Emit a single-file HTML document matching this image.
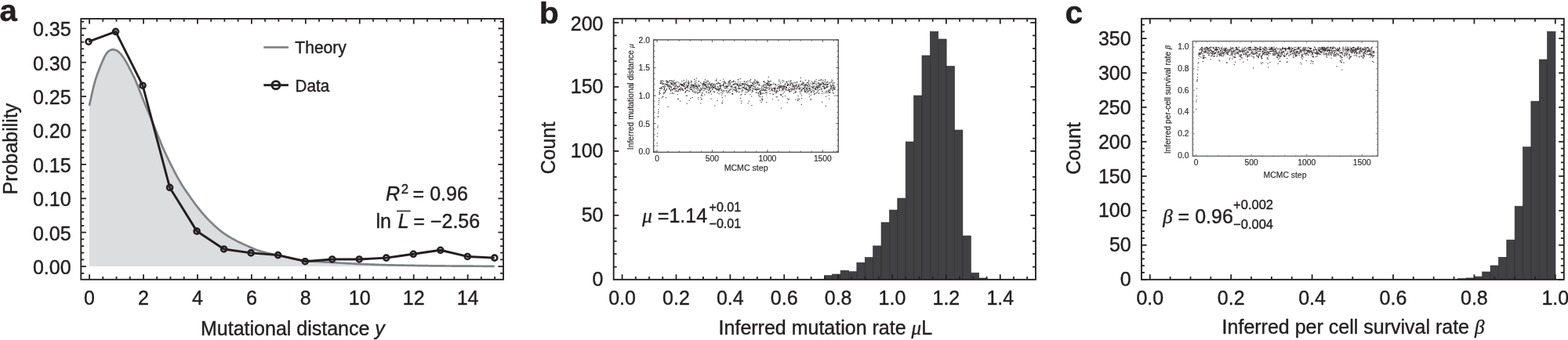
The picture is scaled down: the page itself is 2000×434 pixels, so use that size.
<!DOCTYPE html>
<html lang="en">
<head>
<meta charset="utf-8">
<title>Figure</title>
<style>
html,body{margin:0;padding:0;background:#fff;}
body{width:2000px;height:434px;overflow:hidden;}
svg{display:block;}
text{white-space:pre;}
</style>
</head>
<body>
<svg width="2000" height="434" viewBox="0 0 2000 434">
<rect width="2000" height="434" fill="#fff"/>
<path d="M113.90 134.90 L115.90 125.67 L117.89 116.88 L119.89 108.42 L121.88 101.38 L123.88 95.41 L125.87 89.98 L127.87 84.98 L129.86 80.31 L131.86 75.65 L133.85 71.36 L135.85 68.25 L137.84 65.79 L139.84 64.39 L141.84 63.56 L143.83 63.20 L145.83 63.43 L147.82 64.00 L149.82 64.96 L151.81 66.65 L153.81 68.65 L155.80 71.15 L157.80 74.04 L159.79 77.15 L161.79 80.67 L163.78 84.48 L165.78 88.31 L167.77 92.09 L169.77 96.00 L171.77 100.20 L173.76 104.86 L175.76 109.80 L177.75 114.79 L179.75 119.93 L181.74 125.09 L183.74 130.04 L185.73 134.78 L187.73 139.47 L189.72 144.25 L191.72 149.11 L193.71 154.00 L195.71 158.90 L197.71 163.79 L199.70 168.69 L201.70 173.64 L203.69 178.59 L205.69 183.46 L207.68 188.18 L209.68 192.68 L211.67 197.05 L213.67 201.29 L215.66 205.42 L217.66 209.45 L219.65 213.39 L221.65 217.27 L223.65 221.09 L225.64 224.82 L227.64 228.44 L229.63 231.93 L231.63 235.27 L233.62 238.43 L235.62 241.45 L237.61 244.37 L239.61 247.24 L241.60 250.10 L243.60 252.94 L245.59 255.76 L247.59 258.54 L249.58 261.25 L251.58 263.89 L253.58 266.44 L255.57 268.89 L257.57 271.26 L259.56 273.58 L261.56 275.83 L263.55 278.01 L265.55 280.13 L267.54 282.18 L269.54 284.15 L271.53 286.06 L273.53 287.94 L275.52 289.76 L277.52 291.53 L279.52 293.23 L281.51 294.85 L283.51 296.38 L285.50 297.82 L287.50 299.19 L289.49 300.49 L291.49 301.73 L293.48 302.92 L295.48 304.07 L297.47 305.19 L299.47 306.27 L301.46 307.32 L303.46 308.34 L305.46 309.32 L307.45 310.27 L309.45 311.20 L311.44 312.11 L313.44 313.00 L315.43 313.89 L317.43 314.79 L319.42 315.69 L321.42 316.58 L323.41 317.44 L325.41 318.27 L327.40 319.04 L329.40 319.74 L331.39 320.37 L333.39 320.95 L335.39 321.50 L337.38 322.01 L339.38 322.51 L341.37 322.98 L343.37 323.45 L345.36 323.91 L347.36 324.34 L349.35 324.76 L351.35 325.17 L353.34 325.58 L355.34 326.02 L357.33 326.47 L359.33 326.92 L361.33 327.39 L363.32 327.85 L365.32 328.30 L367.31 328.74 L369.31 329.16 L371.30 329.56 L373.30 329.95 L375.29 330.34 L377.29 330.73 L379.28 331.11 L381.28 331.47 L383.27 331.81 L385.27 332.12 L387.27 332.39 L389.26 332.62 L391.26 332.82 L393.25 333.00 L395.25 333.18 L397.24 333.35 L399.24 333.50 L401.23 333.65 L403.23 333.79 L405.22 333.92 L407.22 334.05 L409.21 334.17 L411.21 334.29 L413.21 334.41 L415.20 334.53 L417.20 334.65 L419.19 334.76 L421.19 334.88 L423.18 335.01 L425.18 335.13 L427.17 335.25 L429.17 335.37 L431.16 335.49 L433.16 335.61 L435.15 335.73 L437.15 335.85 L439.14 335.96 L441.14 336.07 L443.14 336.18 L445.13 336.29 L447.13 336.40 L449.12 336.50 L451.12 336.60 L453.11 336.70 L455.11 336.79 L457.10 336.89 L459.10 336.98 L461.09 337.06 L463.09 337.15 L465.08 337.24 L467.08 337.32 L469.08 337.41 L471.07 337.49 L473.07 337.57 L475.06 337.65 L477.06 337.72 L479.05 337.79 L481.05 337.87 L483.04 337.93 L485.04 338.00 L487.03 338.06 L489.03 338.12 L491.02 338.18 L493.02 338.23 L495.02 338.28 L497.01 338.33 L499.01 338.38 L501.00 338.43 L503.00 338.47 L504.99 338.51 L506.99 338.55 L508.98 338.59 L510.98 338.63 L512.97 338.67 L514.97 338.71 L516.96 338.75 L518.96 338.78 L520.95 338.82 L522.95 338.85 L524.95 338.89 L526.94 338.92 L528.94 338.96 L530.93 338.99 L532.93 339.03 L534.92 339.06 L536.92 339.10 L538.91 339.13 L540.91 339.16 L542.90 339.19 L544.90 339.22 L546.89 339.25 L548.89 339.28 L550.89 339.30 L552.88 339.33 L554.88 339.35 L556.87 339.37 L558.87 339.39 L560.86 339.41 L562.86 339.42 L564.85 339.44 L566.85 339.46 L568.84 339.48 L570.84 339.49 L572.83 339.51 L574.83 339.52 L576.83 339.54 L578.82 339.56 L580.82 339.57 L582.81 339.59 L584.81 339.60 L586.80 339.62 L588.80 339.63 L590.79 339.65 L592.79 339.66 L594.78 339.67 L596.78 339.68 L598.77 339.70 L600.77 339.71 L602.76 339.72 L604.76 339.73 L606.76 339.74 L608.75 339.75 L610.75 339.76 L612.74 339.76 L614.74 339.77 L616.73 339.78 L618.73 339.78 L620.72 339.79 L622.72 339.79 L624.71 339.80 L626.71 339.80 L628.70 339.80 L630.70 339.80 L630.70 340.10 L113.90 340.10 Z" fill="#dcddde" stroke="none"/>
<path d="M113.90 134.90 L115.90 125.67 L117.89 116.88 L119.89 108.42 L121.88 101.38 L123.88 95.41 L125.87 89.98 L127.87 84.98 L129.86 80.31 L131.86 75.65 L133.85 71.36 L135.85 68.25 L137.84 65.79 L139.84 64.39 L141.84 63.56 L143.83 63.20 L145.83 63.43 L147.82 64.00 L149.82 64.96 L151.81 66.65 L153.81 68.65 L155.80 71.15 L157.80 74.04 L159.79 77.15 L161.79 80.67 L163.78 84.48 L165.78 88.31 L167.77 92.09 L169.77 96.00 L171.77 100.20 L173.76 104.86 L175.76 109.80 L177.75 114.79 L179.75 119.93 L181.74 125.09 L183.74 130.04 L185.73 134.78 L187.73 139.47 L189.72 144.25 L191.72 149.11 L193.71 154.00 L195.71 158.90 L197.71 163.79 L199.70 168.69 L201.70 173.64 L203.69 178.59 L205.69 183.46 L207.68 188.18 L209.68 192.68 L211.67 197.05 L213.67 201.29 L215.66 205.42 L217.66 209.45 L219.65 213.39 L221.65 217.27 L223.65 221.09 L225.64 224.82 L227.64 228.44 L229.63 231.93 L231.63 235.27 L233.62 238.43 L235.62 241.45 L237.61 244.37 L239.61 247.24 L241.60 250.10 L243.60 252.94 L245.59 255.76 L247.59 258.54 L249.58 261.25 L251.58 263.89 L253.58 266.44 L255.57 268.89 L257.57 271.26 L259.56 273.58 L261.56 275.83 L263.55 278.01 L265.55 280.13 L267.54 282.18 L269.54 284.15 L271.53 286.06 L273.53 287.94 L275.52 289.76 L277.52 291.53 L279.52 293.23 L281.51 294.85 L283.51 296.38 L285.50 297.82 L287.50 299.19 L289.49 300.49 L291.49 301.73 L293.48 302.92 L295.48 304.07 L297.47 305.19 L299.47 306.27 L301.46 307.32 L303.46 308.34 L305.46 309.32 L307.45 310.27 L309.45 311.20 L311.44 312.11 L313.44 313.00 L315.43 313.89 L317.43 314.79 L319.42 315.69 L321.42 316.58 L323.41 317.44 L325.41 318.27 L327.40 319.04 L329.40 319.74 L331.39 320.37 L333.39 320.95 L335.39 321.50 L337.38 322.01 L339.38 322.51 L341.37 322.98 L343.37 323.45 L345.36 323.91 L347.36 324.34 L349.35 324.76 L351.35 325.17 L353.34 325.58 L355.34 326.02 L357.33 326.47 L359.33 326.92 L361.33 327.39 L363.32 327.85 L365.32 328.30 L367.31 328.74 L369.31 329.16 L371.30 329.56 L373.30 329.95 L375.29 330.34 L377.29 330.73 L379.28 331.11 L381.28 331.47 L383.27 331.81 L385.27 332.12 L387.27 332.39 L389.26 332.62 L391.26 332.82 L393.25 333.00 L395.25 333.18 L397.24 333.35 L399.24 333.50 L401.23 333.65 L403.23 333.79 L405.22 333.92 L407.22 334.05 L409.21 334.17 L411.21 334.29 L413.21 334.41 L415.20 334.53 L417.20 334.65 L419.19 334.76 L421.19 334.88 L423.18 335.01 L425.18 335.13 L427.17 335.25 L429.17 335.37 L431.16 335.49 L433.16 335.61 L435.15 335.73 L437.15 335.85 L439.14 335.96 L441.14 336.07 L443.14 336.18 L445.13 336.29 L447.13 336.40 L449.12 336.50 L451.12 336.60 L453.11 336.70 L455.11 336.79 L457.10 336.89 L459.10 336.98 L461.09 337.06 L463.09 337.15 L465.08 337.24 L467.08 337.32 L469.08 337.41 L471.07 337.49 L473.07 337.57 L475.06 337.65 L477.06 337.72 L479.05 337.79 L481.05 337.87 L483.04 337.93 L485.04 338.00 L487.03 338.06 L489.03 338.12 L491.02 338.18 L493.02 338.23 L495.02 338.28 L497.01 338.33 L499.01 338.38 L501.00 338.43 L503.00 338.47 L504.99 338.51 L506.99 338.55 L508.98 338.59 L510.98 338.63 L512.97 338.67 L514.97 338.71 L516.96 338.75 L518.96 338.78 L520.95 338.82 L522.95 338.85 L524.95 338.89 L526.94 338.92 L528.94 338.96 L530.93 338.99 L532.93 339.03 L534.92 339.06 L536.92 339.10 L538.91 339.13 L540.91 339.16 L542.90 339.19 L544.90 339.22 L546.89 339.25 L548.89 339.28 L550.89 339.30 L552.88 339.33 L554.88 339.35 L556.87 339.37 L558.87 339.39 L560.86 339.41 L562.86 339.42 L564.85 339.44 L566.85 339.46 L568.84 339.48 L570.84 339.49 L572.83 339.51 L574.83 339.52 L576.83 339.54 L578.82 339.56 L580.82 339.57 L582.81 339.59 L584.81 339.60 L586.80 339.62 L588.80 339.63 L590.79 339.65 L592.79 339.66 L594.78 339.67 L596.78 339.68 L598.77 339.70 L600.77 339.71 L602.76 339.72 L604.76 339.73 L606.76 339.74 L608.75 339.75 L610.75 339.76 L612.74 339.76 L614.74 339.77 L616.73 339.78 L618.73 339.78 L620.72 339.79 L622.72 339.79 L624.71 339.80 L626.71 339.80 L628.70 339.80 L630.70 339.80" fill="none" stroke="#808285" stroke-width="2.7" stroke-linejoin="round"/>
<polyline points="113.00,53.19 147.52,40.35 182.04,109.19 216.56,239.40 251.08,295.13 285.60,317.96 320.12,322.91 354.64,325.60 389.16,333.68 423.68,330.98 458.20,330.98 492.72,329.16 527.24,324.30 561.76,319.27 596.28,327.43 630.80,329.16" fill="none" stroke="#231f20" stroke-width="2.9" stroke-linejoin="round"/>
<circle cx="113.00" cy="53.19" r="3.5" fill="none" stroke="#231f20" stroke-width="2.6"/>
<circle cx="147.52" cy="40.35" r="3.5" fill="none" stroke="#231f20" stroke-width="2.6"/>
<circle cx="182.04" cy="109.19" r="3.5" fill="none" stroke="#231f20" stroke-width="2.6"/>
<circle cx="216.56" cy="239.40" r="3.5" fill="none" stroke="#231f20" stroke-width="2.6"/>
<circle cx="251.08" cy="295.13" r="3.5" fill="none" stroke="#231f20" stroke-width="2.6"/>
<circle cx="285.60" cy="317.96" r="3.5" fill="none" stroke="#231f20" stroke-width="2.6"/>
<circle cx="320.12" cy="322.91" r="3.5" fill="none" stroke="#231f20" stroke-width="2.6"/>
<circle cx="354.64" cy="325.60" r="3.5" fill="none" stroke="#231f20" stroke-width="2.6"/>
<circle cx="389.16" cy="333.68" r="3.5" fill="none" stroke="#231f20" stroke-width="2.6"/>
<circle cx="423.68" cy="330.98" r="3.5" fill="none" stroke="#231f20" stroke-width="2.6"/>
<circle cx="458.20" cy="330.98" r="3.5" fill="none" stroke="#231f20" stroke-width="2.6"/>
<circle cx="492.72" cy="329.16" r="3.5" fill="none" stroke="#231f20" stroke-width="2.6"/>
<circle cx="527.24" cy="324.30" r="3.5" fill="none" stroke="#231f20" stroke-width="2.6"/>
<circle cx="561.76" cy="319.27" r="3.5" fill="none" stroke="#231f20" stroke-width="2.6"/>
<circle cx="596.28" cy="327.43" r="3.5" fill="none" stroke="#231f20" stroke-width="2.6"/>
<circle cx="630.80" cy="329.16" r="3.5" fill="none" stroke="#231f20" stroke-width="2.6"/>
<rect x="103.30" y="23.90" width="538.70" height="332.90" fill="none" stroke="#231f20" stroke-width="1.85"/>
<path d="M114.05 356.80v-6.60M114.05 23.90v6.60M182.99 356.80v-6.60M182.99 23.90v6.60M251.93 356.80v-6.60M251.93 23.90v6.60M320.87 356.80v-6.60M320.87 23.90v6.60M389.81 356.80v-6.60M389.81 23.90v6.60M458.75 356.80v-6.60M458.75 23.90v6.60M527.69 356.80v-6.60M527.69 23.90v6.60M596.63 356.80v-6.60M596.63 23.90v6.60M114.05 356.80v-3.90M114.05 23.90v3.90M131.28 356.80v-3.90M131.28 23.90v3.90M148.52 356.80v-3.90M148.52 23.90v3.90M165.75 356.80v-3.90M165.75 23.90v3.90M182.99 356.80v-3.90M182.99 23.90v3.90M200.22 356.80v-3.90M200.22 23.90v3.90M217.46 356.80v-3.90M217.46 23.90v3.90M234.69 356.80v-3.90M234.69 23.90v3.90M251.93 356.80v-3.90M251.93 23.90v3.90M269.17 356.80v-3.90M269.17 23.90v3.90M286.40 356.80v-3.90M286.40 23.90v3.90M303.63 356.80v-3.90M303.63 23.90v3.90M320.87 356.80v-3.90M320.87 23.90v3.90M338.11 356.80v-3.90M338.11 23.90v3.90M355.34 356.80v-3.90M355.34 23.90v3.90M372.57 356.80v-3.90M372.57 23.90v3.90M389.81 356.80v-3.90M389.81 23.90v3.90M407.05 356.80v-3.90M407.05 23.90v3.90M424.28 356.80v-3.90M424.28 23.90v3.90M441.51 356.80v-3.90M441.51 23.90v3.90M458.75 356.80v-3.90M458.75 23.90v3.90M475.99 356.80v-3.90M475.99 23.90v3.90M493.22 356.80v-3.90M493.22 23.90v3.90M510.45 356.80v-3.90M510.45 23.90v3.90M527.69 356.80v-3.90M527.69 23.90v3.90M544.92 356.80v-3.90M544.92 23.90v3.90M562.16 356.80v-3.90M562.16 23.90v3.90M579.39 356.80v-3.90M579.39 23.90v3.90M596.63 356.80v-3.90M596.63 23.90v3.90M613.87 356.80v-3.90M613.87 23.90v3.90M631.10 356.80v-3.90M631.10 23.90v3.90M103.30 340.10h6.60M642.00 340.10h-6.60M103.30 296.70h6.60M642.00 296.70h-6.60M103.30 253.29h6.60M642.00 253.29h-6.60M103.30 209.88h6.60M642.00 209.88h-6.60M103.30 166.48h6.60M642.00 166.48h-6.60M103.30 123.08h6.60M642.00 123.08h-6.60M103.30 79.67h6.60M642.00 79.67h-6.60M103.30 36.26h6.60M642.00 36.26h-6.60M103.30 348.78h3.90M642.00 348.78h-3.90M103.30 340.10h3.90M642.00 340.10h-3.90M103.30 331.42h3.90M642.00 331.42h-3.90M103.30 322.74h3.90M642.00 322.74h-3.90M103.30 314.06h3.90M642.00 314.06h-3.90M103.30 305.38h3.90M642.00 305.38h-3.90M103.30 296.70h3.90M642.00 296.70h-3.90M103.30 288.01h3.90M642.00 288.01h-3.90M103.30 279.33h3.90M642.00 279.33h-3.90M103.30 270.65h3.90M642.00 270.65h-3.90M103.30 261.97h3.90M642.00 261.97h-3.90M103.30 253.29h3.90M642.00 253.29h-3.90M103.30 244.61h3.90M642.00 244.61h-3.90M103.30 235.93h3.90M642.00 235.93h-3.90M103.30 227.25h3.90M642.00 227.25h-3.90M103.30 218.57h3.90M642.00 218.57h-3.90M103.30 209.89h3.90M642.00 209.89h-3.90M103.30 201.20h3.90M642.00 201.20h-3.90M103.30 192.52h3.90M642.00 192.52h-3.90M103.30 183.84h3.90M642.00 183.84h-3.90M103.30 175.16h3.90M642.00 175.16h-3.90M103.30 166.48h3.90M642.00 166.48h-3.90M103.30 157.80h3.90M642.00 157.80h-3.90M103.30 149.12h3.90M642.00 149.12h-3.90M103.30 140.44h3.90M642.00 140.44h-3.90M103.30 131.76h3.90M642.00 131.76h-3.90M103.30 123.08h3.90M642.00 123.08h-3.90M103.30 114.39h3.90M642.00 114.39h-3.90M103.30 105.71h3.90M642.00 105.71h-3.90M103.30 97.03h3.90M642.00 97.03h-3.90M103.30 88.35h3.90M642.00 88.35h-3.90M103.30 79.67h3.90M642.00 79.67h-3.90M103.30 70.99h3.90M642.00 70.99h-3.90M103.30 62.31h3.90M642.00 62.31h-3.90M103.30 53.63h3.90M642.00 53.63h-3.90M103.30 44.95h3.90M642.00 44.95h-3.90M103.30 36.26h3.90M642.00 36.26h-3.90M103.30 27.58h3.90M642.00 27.58h-3.90" stroke="#231f20" stroke-width="1.75" fill="none"/>
<g font-family='"Liberation Sans", Arial, Helvetica, sans-serif'>
<text x="0.00" y="0.00" font-size="39" text-anchor="start" fill="#231f20" stroke="#231f20" stroke-width="0.4" font-weight="bold" transform="translate(-0.4,27.2) scale(1.03,1)">a</text>
<text x="90.60" y="350.00" font-size="25" text-anchor="end" fill="#231f20" stroke="#231f20" stroke-width="0.4" >0.00</text>
<text x="90.60" y="306.60" font-size="25" text-anchor="end" fill="#231f20" stroke="#231f20" stroke-width="0.4" >0.05</text>
<text x="90.60" y="263.19" font-size="25" text-anchor="end" fill="#231f20" stroke="#231f20" stroke-width="0.4" >0.10</text>
<text x="90.60" y="219.78" font-size="25" text-anchor="end" fill="#231f20" stroke="#231f20" stroke-width="0.4" >0.15</text>
<text x="90.60" y="176.38" font-size="25" text-anchor="end" fill="#231f20" stroke="#231f20" stroke-width="0.4" >0.20</text>
<text x="90.60" y="132.98" font-size="25" text-anchor="end" fill="#231f20" stroke="#231f20" stroke-width="0.4" >0.25</text>
<text x="90.60" y="89.57" font-size="25" text-anchor="end" fill="#231f20" stroke="#231f20" stroke-width="0.4" >0.30</text>
<text x="90.60" y="46.16" font-size="25" text-anchor="end" fill="#231f20" stroke="#231f20" stroke-width="0.4" >0.35</text>
<text x="114.05" y="388.60" font-size="25" text-anchor="middle" fill="#231f20" stroke="#231f20" stroke-width="0.4" >0</text>
<text x="182.99" y="388.60" font-size="25" text-anchor="middle" fill="#231f20" stroke="#231f20" stroke-width="0.4" >2</text>
<text x="251.93" y="388.60" font-size="25" text-anchor="middle" fill="#231f20" stroke="#231f20" stroke-width="0.4" >4</text>
<text x="320.87" y="388.60" font-size="25" text-anchor="middle" fill="#231f20" stroke="#231f20" stroke-width="0.4" >6</text>
<text x="389.81" y="388.60" font-size="25" text-anchor="middle" fill="#231f20" stroke="#231f20" stroke-width="0.4" >8</text>
<text x="458.75" y="388.60" font-size="25" text-anchor="middle" fill="#231f20" stroke="#231f20" stroke-width="0.4" >10</text>
<text x="527.69" y="388.60" font-size="25" text-anchor="middle" fill="#231f20" stroke="#231f20" stroke-width="0.4" >12</text>
<text x="596.63" y="388.60" font-size="25" text-anchor="middle" fill="#231f20" stroke="#231f20" stroke-width="0.4" >14</text>
<text x="0.00" y="0.00" font-size="25" text-anchor="middle" fill="#231f20" stroke="#231f20" stroke-width="0.4" transform="translate(21.5,190) rotate(-90)">Probability</text>
<text x="256.00" y="427.60" font-size="25" text-anchor="start" fill="#231f20" stroke="#231f20" stroke-width="0.4" >Mutational distance <tspan font-style="italic">y</tspan></text>
<line x1="336.30" y1="60.40" x2="367.90" y2="60.40" stroke="#808285" stroke-width="2.7" />
<text transform="translate(376.30,67.70) scale(0.95,1)" font-size="22.2" text-anchor="start" fill="#231f20" stroke="#231f20" stroke-width="0.4" >Theory</text>
<line x1="336.30" y1="108.65" x2="367.90" y2="108.65" stroke="#231f20" stroke-width="2.9" />
<circle cx="351.9" cy="108.65" r="5.0" fill="none" stroke="#231f20" stroke-width="2.9"/>
<text transform="translate(376.60,116.70) scale(0.93,1)" font-size="22.2" text-anchor="start" fill="#231f20" stroke="#231f20" stroke-width="0.4" >Data</text>
<text x="492.00" y="256.30" font-size="25" text-anchor="start" fill="#231f20" stroke="#231f20" stroke-width="0.4" ><tspan font-style="italic">R</tspan><tspan dx="1.8" dy="-8.8" font-size="16.7">2</tspan><tspan dx="-1.5" dy="8.8"> = 0.96</tspan></text>
<text x="479.40" y="291.00" font-size="25" text-anchor="start" fill="#231f20" stroke="#231f20" stroke-width="0.4" >ln <tspan dx="1.9" font-style="italic">L</tspan><tspan dx="-1.2"> = −2.56</tspan></text>
<line x1="506.10" y1="269.40" x2="523.70" y2="269.40" stroke="#231f20" stroke-width="1.5" />
</g>
<rect x="1051.30" y="351.70" width="10.39" height="5.15" fill="#414042" stroke="#2b2a2b" stroke-width="0.6"/>
<rect x="1061.69" y="350.05" width="10.39" height="6.80" fill="#414042" stroke="#2b2a2b" stroke-width="0.6"/>
<rect x="1072.08" y="345.25" width="10.39" height="11.60" fill="#414042" stroke="#2b2a2b" stroke-width="0.6"/>
<rect x="1082.47" y="346.75" width="10.39" height="10.10" fill="#414042" stroke="#2b2a2b" stroke-width="0.6"/>
<rect x="1092.86" y="335.20" width="10.39" height="21.65" fill="#414042" stroke="#2b2a2b" stroke-width="0.6"/>
<rect x="1103.25" y="328.60" width="10.39" height="28.25" fill="#414042" stroke="#2b2a2b" stroke-width="0.6"/>
<rect x="1113.64" y="313.90" width="10.39" height="42.95" fill="#414042" stroke="#2b2a2b" stroke-width="0.6"/>
<rect x="1124.03" y="283.95" width="10.39" height="72.90" fill="#414042" stroke="#2b2a2b" stroke-width="0.6"/>
<rect x="1134.42" y="268.05" width="10.39" height="88.80" fill="#414042" stroke="#2b2a2b" stroke-width="0.6"/>
<rect x="1144.81" y="253.05" width="10.39" height="103.80" fill="#414042" stroke="#2b2a2b" stroke-width="0.6"/>
<rect x="1155.20" y="181.00" width="10.39" height="175.85" fill="#414042" stroke="#2b2a2b" stroke-width="0.6"/>
<rect x="1165.59" y="122.00" width="10.39" height="234.85" fill="#414042" stroke="#2b2a2b" stroke-width="0.6"/>
<rect x="1175.98" y="70.95" width="10.39" height="285.90" fill="#414042" stroke="#2b2a2b" stroke-width="0.6"/>
<rect x="1186.37" y="40.20" width="10.39" height="316.65" fill="#414042" stroke="#2b2a2b" stroke-width="0.6"/>
<rect x="1196.76" y="49.95" width="10.39" height="306.90" fill="#414042" stroke="#2b2a2b" stroke-width="0.6"/>
<rect x="1207.15" y="84.45" width="10.39" height="272.40" fill="#414042" stroke="#2b2a2b" stroke-width="0.6"/>
<rect x="1217.54" y="166.00" width="10.39" height="190.85" fill="#414042" stroke="#2b2a2b" stroke-width="0.6"/>
<rect x="1227.93" y="301.00" width="10.39" height="55.85" fill="#414042" stroke="#2b2a2b" stroke-width="0.6"/>
<rect x="1238.32" y="348.25" width="10.39" height="8.60" fill="#414042" stroke="#2b2a2b" stroke-width="0.6"/>
<rect x="1248.71" y="355.00" width="10.39" height="1.85" fill="#414042" stroke="#2b2a2b" stroke-width="0.6"/>
<rect x="782.70" y="23.80" width="538.30" height="333.05" fill="none" stroke="#231f20" stroke-width="1.85"/>
<path d="M793.60 356.85v-6.60M793.60 23.80v6.60M862.48 356.85v-6.60M862.48 23.80v6.60M931.36 356.85v-6.60M931.36 23.80v6.60M1000.24 356.85v-6.60M1000.24 23.80v6.60M1069.12 356.85v-6.60M1069.12 23.80v6.60M1138.00 356.85v-6.60M1138.00 23.80v6.60M1206.88 356.85v-6.60M1206.88 23.80v6.60M1275.76 356.85v-6.60M1275.76 23.80v6.60M793.60 356.85v-3.90M793.60 23.80v3.90M810.82 356.85v-3.90M810.82 23.80v3.90M828.04 356.85v-3.90M828.04 23.80v3.90M845.26 356.85v-3.90M845.26 23.80v3.90M862.48 356.85v-3.90M862.48 23.80v3.90M879.70 356.85v-3.90M879.70 23.80v3.90M896.92 356.85v-3.90M896.92 23.80v3.90M914.14 356.85v-3.90M914.14 23.80v3.90M931.36 356.85v-3.90M931.36 23.80v3.90M948.58 356.85v-3.90M948.58 23.80v3.90M965.80 356.85v-3.90M965.80 23.80v3.90M983.02 356.85v-3.90M983.02 23.80v3.90M1000.24 356.85v-3.90M1000.24 23.80v3.90M1017.46 356.85v-3.90M1017.46 23.80v3.90M1034.68 356.85v-3.90M1034.68 23.80v3.90M1051.90 356.85v-3.90M1051.90 23.80v3.90M1069.12 356.85v-3.90M1069.12 23.80v3.90M1086.34 356.85v-3.90M1086.34 23.80v3.90M1103.56 356.85v-3.90M1103.56 23.80v3.90M1120.78 356.85v-3.90M1120.78 23.80v3.90M1138.00 356.85v-3.90M1138.00 23.80v3.90M1155.22 356.85v-3.90M1155.22 23.80v3.90M1172.44 356.85v-3.90M1172.44 23.80v3.90M1189.66 356.85v-3.90M1189.66 23.80v3.90M1206.88 356.85v-3.90M1206.88 23.80v3.90M1224.10 356.85v-3.90M1224.10 23.80v3.90M1241.32 356.85v-3.90M1241.32 23.80v3.90M1258.54 356.85v-3.90M1258.54 23.80v3.90M1275.76 356.85v-3.90M1275.76 23.80v3.90M1292.98 356.85v-3.90M1292.98 23.80v3.90M1310.20 356.85v-3.90M1310.20 23.80v3.90M782.70 274.95h6.60M1321.00 274.95h-6.60M782.70 192.95h6.60M1321.00 192.95h-6.60M782.70 110.95h6.60M1321.00 110.95h-6.60M782.70 28.95h6.60M1321.00 28.95h-6.60M782.70 340.55h3.90M1321.00 340.55h-3.90M782.70 324.15h3.90M1321.00 324.15h-3.90M782.70 307.75h3.90M1321.00 307.75h-3.90M782.70 291.35h3.90M1321.00 291.35h-3.90M782.70 274.95h3.90M1321.00 274.95h-3.90M782.70 258.55h3.90M1321.00 258.55h-3.90M782.70 242.15h3.90M1321.00 242.15h-3.90M782.70 225.75h3.90M1321.00 225.75h-3.90M782.70 209.35h3.90M1321.00 209.35h-3.90M782.70 192.95h3.90M1321.00 192.95h-3.90M782.70 176.55h3.90M1321.00 176.55h-3.90M782.70 160.15h3.90M1321.00 160.15h-3.90M782.70 143.75h3.90M1321.00 143.75h-3.90M782.70 127.35h3.90M1321.00 127.35h-3.90M782.70 110.95h3.90M1321.00 110.95h-3.90M782.70 94.55h3.90M1321.00 94.55h-3.90M782.70 78.15h3.90M1321.00 78.15h-3.90M782.70 61.75h3.90M1321.00 61.75h-3.90M782.70 45.35h3.90M1321.00 45.35h-3.90M782.70 28.95h3.90M1321.00 28.95h-3.90" stroke="#231f20" stroke-width="1.75" fill="none"/>
<g font-family='"Liberation Sans", Arial, Helvetica, sans-serif'>
<text x="0.00" y="0.00" font-size="39.5" text-anchor="start" fill="#231f20" stroke="#231f20" stroke-width="0.4" font-weight="bold" transform="translate(687.8,29.5) scale(1.04,1)">b</text>
<text x="769.50" y="365.45" font-size="25" text-anchor="end" fill="#231f20" stroke="#231f20" stroke-width="0.4" >0</text>
<text x="769.50" y="283.45" font-size="25" text-anchor="end" fill="#231f20" stroke="#231f20" stroke-width="0.4" >50</text>
<text x="769.50" y="201.45" font-size="25" text-anchor="end" fill="#231f20" stroke="#231f20" stroke-width="0.4" >100</text>
<text x="769.50" y="119.45" font-size="25" text-anchor="end" fill="#231f20" stroke="#231f20" stroke-width="0.4" >150</text>
<text x="769.50" y="38.65" font-size="25" text-anchor="end" fill="#231f20" stroke="#231f20" stroke-width="0.4" >200</text>
<text x="793.60" y="388.60" font-size="25" text-anchor="middle" fill="#231f20" stroke="#231f20" stroke-width="0.4" >0.0</text>
<text x="862.48" y="388.60" font-size="25" text-anchor="middle" fill="#231f20" stroke="#231f20" stroke-width="0.4" >0.2</text>
<text x="931.36" y="388.60" font-size="25" text-anchor="middle" fill="#231f20" stroke="#231f20" stroke-width="0.4" >0.4</text>
<text x="1000.24" y="388.60" font-size="25" text-anchor="middle" fill="#231f20" stroke="#231f20" stroke-width="0.4" >0.6</text>
<text x="1069.12" y="388.60" font-size="25" text-anchor="middle" fill="#231f20" stroke="#231f20" stroke-width="0.4" >0.8</text>
<text x="1138.00" y="388.60" font-size="25" text-anchor="middle" fill="#231f20" stroke="#231f20" stroke-width="0.4" >1.0</text>
<text x="1206.88" y="388.60" font-size="25" text-anchor="middle" fill="#231f20" stroke="#231f20" stroke-width="0.4" >1.2</text>
<text x="1275.76" y="388.60" font-size="25" text-anchor="middle" fill="#231f20" stroke="#231f20" stroke-width="0.4" >1.4</text>
<text x="0.00" y="0.00" font-size="25" text-anchor="middle" fill="#231f20" stroke="#231f20" stroke-width="0.4" transform="translate(708.1,189) rotate(-90)">Count</text>
<text x="916.60" y="427.00" font-size="25" text-anchor="start" fill="#231f20" stroke="#231f20" stroke-width="0.4" >Inferred mutation rate <tspan font-family='"Liberation Serif", "DejaVu Serif", serif' font-style="italic">μ</tspan>L</text>
<text x="819.30" y="284.20" font-size="25" text-anchor="start" fill="#231f20" stroke="#231f20" stroke-width="0.4" ><tspan font-family='"Liberation Serif", "DejaVu Serif", serif' font-style="italic">μ</tspan> =1.14</text>
<text x="904.60" y="269.60" font-size="16" text-anchor="start" fill="#231f20" stroke="#231f20" stroke-width="0.4" >+0.01</text>
<text x="904.60" y="290.90" font-size="16" text-anchor="start" fill="#231f20" stroke="#231f20" stroke-width="0.4" >−0.01</text>
</g>
<path d="M838.0 186.1h0.2M838.1 182.7h0.2M838.3 174.2h0.2M838.6 170.1h0.2M838.7 162.8h0.2M839.0 160.8h0.2M839.3 148.9h0.2M839.4 149.0h0.2M839.5 144.4h0.2M839.7 142.4h0.2M839.8 139.8h0.2M840.0 133.5h0.2M840.1 131.2h0.2M840.4 128.6h0.2M840.5 125.7h0.2M840.8 120.3h0.2M841.1 118.7h0.2M841.2 117.5h0.2M841.5 115.6h0.2M841.7 112.8h0.2M841.8 113.0h0.2M841.9 119.5h0.2M842.1 112.6h0.2M842.2 106.1h0.2M842.4 105.6h0.2M842.5 103.5h0.2M842.6 105.9h0.2M842.8 105.6h0.2M842.9 103.4h0.2M843.1 106.4h0.2M843.4 103.5h0.2M843.5 111.3h0.2M843.6 112.0h0.2M843.9 113.2h0.2M844.1 112.8h0.2M844.3 124.9h0.2M844.5 105.6h0.2M844.6 102.8h0.2M844.8 103.9h0.2M844.9 107.5h0.2M845.2 123.1h0.2M845.3 110.4h0.2M845.5 107.5h0.2M845.6 106.9h0.2M845.7 123.3h0.2M845.9 110.8h0.2M846.0 106.7h0.2M846.3 118.6h0.2M846.5 119.9h0.2M846.6 114.6h0.2M846.7 103.7h0.2M846.9 112.3h0.2M847.0 110.4h0.2M847.2 114.8h0.2M847.3 108.7h0.2M847.4 118.4h0.2M847.6 113.5h0.2M847.7 111.9h0.2M848.1 106.8h0.2M848.3 118.1h0.2M848.4 116.6h0.2M848.6 116.1h0.2M848.7 110.4h0.2M848.8 115.7h0.2M849.1 107.5h0.2M849.3 124.7h0.2M849.6 108.0h0.2M849.7 103.7h0.2M849.8 108.5h0.2M850.0 103.2h0.2M850.1 103.2h0.2M850.3 114.7h0.2M850.4 105.3h0.2M850.5 113.6h0.2M850.7 108.0h0.2M850.8 107.2h0.2M851.1 103.8h0.2M851.2 105.1h0.2M851.4 108.1h0.2M851.5 109.5h0.2M851.7 104.2h0.2M851.8 104.6h0.2M851.9 110.7h0.2M852.1 136.3h0.2M852.4 110.2h0.2M852.5 110.4h0.2M852.7 108.2h0.2M852.8 105.6h0.2M853.1 111.0h0.2M853.4 113.2h0.2M853.5 113.4h0.2M853.6 103.2h0.2M853.8 108.9h0.2M853.9 103.4h0.2M854.1 113.2h0.2M854.2 111.0h0.2M854.5 108.9h0.2M854.6 110.4h0.2M854.8 119.1h0.2M854.9 105.9h0.2M855.0 102.9h0.2M855.2 114.7h0.2M855.3 115.9h0.2M855.5 105.5h0.2M855.6 116.0h0.2M855.8 111.0h0.2M855.9 107.0h0.2M856.0 114.6h0.2M856.2 112.7h0.2M856.3 111.1h0.2M856.5 107.5h0.2M856.6 106.8h0.2M856.7 102.9h0.2M856.9 103.5h0.2M857.0 105.4h0.2M857.2 107.0h0.2M857.3 119.4h0.2M857.4 118.0h0.2M857.6 114.5h0.2M857.7 106.9h0.2M857.9 115.0h0.2M858.0 103.7h0.2M858.1 108.7h0.2M858.6 113.3h0.2M858.7 108.5h0.2M858.9 105.7h0.2M859.0 113.5h0.2M859.1 104.2h0.2M859.3 112.5h0.2M859.4 119.5h0.2M859.6 109.8h0.2M859.7 107.9h0.2M859.8 105.9h0.2M860.0 102.7h0.2M860.1 106.5h0.2M860.3 114.1h0.2M860.5 112.7h0.2M860.7 107.0h0.2M860.8 111.1h0.2M861.0 106.6h0.2M861.1 116.7h0.2M861.2 113.4h0.2M861.4 107.8h0.2M861.5 110.1h0.2M861.7 110.0h0.2M861.8 105.5h0.2M862.0 115.2h0.2M862.1 113.2h0.2M862.2 104.9h0.2M862.5 115.9h0.2M862.8 109.6h0.2M862.9 108.0h0.2M863.4 112.6h0.2M863.6 116.9h0.2M863.8 116.1h0.2M863.9 104.8h0.2M864.1 110.3h0.2M864.2 110.7h0.2M864.3 120.6h0.2M864.6 126.0h0.2M864.9 111.2h0.2M865.1 110.8h0.2M865.2 127.0h0.2M865.3 114.9h0.2M865.5 116.4h0.2M865.6 105.8h0.2M865.9 114.3h0.2M866.2 114.6h0.2M866.3 113.4h0.2M866.5 110.2h0.2M866.6 113.6h0.2M866.7 109.7h0.2M866.9 114.5h0.2M867.0 107.7h0.4M867.6 129.1h0.2M867.9 112.0h0.2M868.0 106.9h0.2M868.2 115.9h0.2M868.3 113.2h0.2M868.4 107.9h0.2M868.6 114.4h0.2M869.0 108.0h0.2M869.1 112.1h0.2M869.3 107.9h0.2M869.4 109.4h0.2M869.6 108.0h0.2M869.7 103.7h0.2M869.8 108.0h0.2M870.0 107.7h0.2M870.1 113.9h0.2M870.3 113.1h0.2M870.4 107.9h0.2M870.5 109.4h0.2M870.7 114.0h0.2M870.8 109.3h0.2M871.0 115.1h0.2M871.1 115.2h0.2M871.3 109.5h0.2M871.4 115.2h0.2M871.5 110.0h0.2M871.8 106.7h0.2M872.0 107.7h0.2M872.2 102.5h0.2M872.4 108.6h0.2M872.5 108.8h0.2M872.7 106.8h0.2M872.8 105.3h0.2M872.9 110.8h0.2M873.1 110.3h0.2M873.4 107.3h0.2M873.5 112.7h0.2M873.6 113.4h0.2M873.9 118.4h0.2M874.1 113.6h0.2M874.2 117.3h0.2M874.4 105.3h0.2M874.5 116.8h0.2M874.6 112.2h0.2M874.8 111.9h0.2M874.9 109.8h0.2M875.1 122.1h0.2M875.3 115.8h0.2M875.5 104.7h0.2M875.6 102.2h0.2M875.8 107.9h0.2M875.9 111.5h0.2M876.0 109.3h0.2M876.2 132.2h0.2M876.3 122.2h0.2M876.6 115.5h0.2M876.7 115.1h0.2M876.9 110.5h0.2M877.0 110.1h0.2M877.2 112.4h0.2M877.3 111.7h0.2M877.5 105.2h0.2M877.6 108.9h0.2M877.7 109.5h0.2M877.9 106.4h0.2M878.0 106.4h0.2M878.2 103.4h0.2M878.3 105.1h0.2M878.4 108.3h0.2M878.6 107.0h0.2M878.7 116.2h0.2M879.1 128.1h0.2M879.4 116.6h0.2M879.7 113.4h0.2M879.8 105.6h0.2M880.1 111.0h0.2M880.4 111.6h0.2M880.6 114.0h0.2M880.8 125.6h0.2M881.0 111.2h0.2M881.1 108.4h0.2M881.3 108.8h0.2M881.4 114.5h0.2M881.5 113.1h0.2M881.7 103.1h0.2M881.8 104.3h0.2M882.0 105.0h0.2M882.1 110.8h0.2M882.2 107.2h0.2M882.4 109.1h0.2M882.5 114.3h0.2M882.8 111.1h0.2M883.1 108.6h0.2M883.2 124.6h0.2M883.4 116.5h0.2M883.7 115.3h0.2M883.8 109.8h0.2M883.9 109.1h0.2M884.1 112.7h0.2M884.2 109.0h0.2M884.4 109.0h0.2M884.5 109.6h0.2M884.6 110.7h0.2M884.8 117.3h0.2M884.9 108.1h0.2M885.1 108.8h0.2M885.2 111.6h0.2M885.3 109.8h0.2M885.5 101.5h0.2M885.6 113.9h0.2M885.8 112.0h0.2M885.9 106.6h0.2M886.0 104.4h0.2M886.2 117.7h0.2M886.6 118.8h0.2M886.8 116.2h0.2M886.9 110.7h0.2M887.0 107.1h0.2M887.2 109.7h0.2M887.3 108.8h0.2M887.5 110.5h0.2M887.6 102.9h0.2M887.7 107.7h0.2M887.9 113.2h0.2M888.0 105.4h0.2M888.2 100.0h0.2M888.3 117.7h0.2M888.4 109.9h0.2M888.6 110.2h0.2M888.9 110.6h0.2M889.0 113.6h0.2M889.1 111.8h0.2M889.3 111.4h0.2M889.6 119.4h0.2M889.7 115.5h0.2M889.9 118.0h0.2M890.1 109.7h0.2M890.3 112.0h0.2M890.4 107.6h0.2M890.6 124.4h0.2M890.7 113.8h0.2M890.8 126.8h0.2M891.0 118.1h0.2M891.1 104.2h0.2M891.3 103.7h0.2M891.4 109.1h0.2M891.5 110.3h0.2M891.8 110.0h0.2M892.1 115.0h0.2M892.2 115.9h0.2M892.4 117.8h0.2M892.5 114.9h0.2M892.7 117.4h0.2M892.8 109.2h0.2M893.1 112.3h0.2M893.2 115.6h0.2M893.5 105.7h0.2M893.7 131.9h0.2M893.8 115.3h0.2M893.9 124.3h0.2M894.1 112.9h0.2M894.2 113.8h0.2M894.4 126.6h0.2M894.5 121.4h0.2M894.6 121.1h0.2M894.8 107.0h0.2M894.9 126.6h0.2M895.2 114.5h0.2M895.5 118.9h0.2M895.6 122.2h0.2M895.8 112.2h0.2M895.9 112.6h0.2M896.1 118.7h0.2M896.2 108.4h0.2M896.3 108.1h0.2M896.5 106.4h0.2M896.6 110.4h0.2M896.9 109.2h0.2M897.0 115.8h0.2M897.2 106.6h0.2M897.3 107.3h0.2M897.5 104.9h0.2M897.6 112.7h0.2M897.7 112.6h0.2M897.9 107.1h0.2M898.0 104.0h0.2M898.2 106.9h0.2M898.3 108.6h0.2M898.4 107.2h0.2M898.6 121.0h0.2M898.7 115.1h0.2M898.9 112.0h0.2M899.0 113.5h0.2M899.2 109.3h0.2M899.3 101.8h0.2M899.4 105.0h0.2M899.6 108.8h0.2M899.7 107.9h0.2M899.9 108.7h0.2M900.0 105.4h0.2M900.1 113.5h0.2M900.3 107.4h0.2M900.4 110.7h0.2M900.6 113.5h0.2M900.7 109.3h0.2M900.8 117.1h0.2M901.0 117.8h0.2M901.1 111.3h0.2M901.3 110.3h0.2M901.4 111.3h0.2M901.5 105.3h0.2M901.7 103.5h0.2M902.0 103.4h0.2M902.1 112.0h0.2M902.4 114.0h0.2M902.5 107.1h0.2M902.7 103.5h0.2M902.8 109.0h0.2M903.0 111.4h0.2M903.4 116.0h0.2M903.5 118.3h0.2M903.7 104.1h0.2M903.8 111.0h0.2M903.9 106.9h0.2M904.1 112.9h0.2M904.2 108.1h0.2M904.4 111.1h0.2M904.5 114.3h0.2M904.6 115.0h0.2M904.8 118.8h0.2M904.9 106.8h0.2M905.2 105.6h0.2M905.4 112.5h0.2M905.5 111.9h0.2M905.6 113.7h0.2M905.9 116.6h0.2M906.1 108.4h0.2M906.2 107.8h0.2M906.3 117.4h0.2M906.5 109.3h0.2M906.6 110.7h0.2M906.8 115.8h0.2M906.9 108.1h0.2M907.0 126.0h0.2M907.2 120.2h0.2M907.3 108.6h0.2M907.5 111.7h0.2M907.7 107.1h0.2M907.9 106.5h0.2M908.0 111.4h0.2M908.2 113.3h0.2M908.5 109.8h0.2M908.6 113.4h0.2M908.7 114.3h0.2M908.9 109.7h0.2M909.2 110.1h0.2M909.3 107.3h0.2M909.6 117.0h0.2M909.7 111.5h0.2M909.9 111.9h0.2M910.0 111.5h0.2M910.1 111.3h0.2M910.3 108.6h0.2M910.4 112.0h0.2M910.6 108.2h0.2M910.8 107.0h0.2M911.0 116.7h0.2M911.1 112.0h0.2M911.3 117.8h0.2M911.5 110.3h0.2M911.7 135.1h0.2M912.0 110.9h0.2M912.1 108.9h0.2M912.3 112.8h0.2M912.4 110.4h0.2M912.7 113.8h0.2M912.8 108.0h0.2M913.1 112.5h0.2M913.2 103.2h0.2M913.5 102.5h0.2M913.8 106.4h0.2M913.9 100.9h0.2M914.1 114.6h0.2M914.2 113.5h0.2M914.4 115.0h0.2M914.6 107.0h0.2M914.9 128.4h0.2M915.1 118.5h0.2M915.2 113.6h0.2M915.5 110.5h0.2M915.6 106.0h0.2M915.8 111.6h0.2M916.1 114.2h0.2M916.2 105.0h0.2M916.3 114.5h0.2M916.6 116.4h0.2M916.8 113.4h0.2M916.9 115.3h0.2M917.0 106.7h0.2M917.2 119.8h0.2M917.3 106.4h0.2M917.6 114.6h0.2M917.7 112.9h0.2M917.9 109.9h0.2M918.0 108.8h0.2M918.2 110.0h0.2M918.3 113.4h0.2M918.5 106.7h0.2M918.7 102.7h0.2M918.9 112.4h0.2M919.0 112.0h0.2M919.2 110.3h0.2M919.4 109.8h0.2M919.6 108.2h0.2M919.7 118.3h0.2M919.9 109.5h0.2M920.0 114.2h0.2M920.1 115.3h0.2M920.6 121.1h0.2M920.7 115.1h0.2M921.0 132.0h0.2M921.1 131.1h0.2M921.3 124.8h0.2M921.4 117.1h0.2M921.6 128.9h0.2M921.7 119.3h0.2M922.0 109.0h0.2M922.1 104.3h0.2M922.3 108.6h0.2M922.4 109.5h0.2M922.5 106.9h0.2M922.7 101.1h0.2M922.8 107.0h0.2M923.0 115.6h0.2M923.1 108.1h0.2M923.2 117.0h0.2M923.4 115.6h0.2M923.5 110.9h0.2M923.7 103.9h0.2M923.9 110.3h0.2M924.1 112.6h0.2M924.2 105.8h0.2M924.4 104.3h0.2M924.5 106.2h0.2M924.7 105.7h0.2M924.8 122.4h0.2M925.1 112.5h0.2M925.5 110.3h0.2M925.6 112.5h0.2M925.8 106.5h0.2M925.9 109.8h0.2M926.1 115.9h0.2M926.3 112.0h0.2M926.5 115.3h0.2M926.6 111.0h0.2M926.8 110.0h0.2M927.0 117.4h0.2M927.2 110.0h0.2M927.5 110.3h0.2M927.6 111.3h0.2M927.8 118.2h0.2M928.2 113.0h0.2M928.3 110.1h0.2M928.6 107.2h0.2M928.7 107.3h0.2M928.9 105.0h0.2M929.0 116.0h0.2M929.2 118.0h0.2M929.3 116.3h0.2M929.4 109.5h0.2M929.7 104.8h0.2M929.9 104.3h0.2M930.0 103.3h0.2M930.1 105.6h0.2M930.4 107.2h0.2M930.6 114.2h0.2M930.7 115.4h0.2M930.9 117.8h0.2M931.0 108.9h0.2M931.1 103.1h0.2M931.3 102.7h0.2M931.6 107.1h0.2M931.7 114.3h0.2M931.8 105.7h0.2M932.1 110.4h0.2M932.4 113.7h0.2M932.5 111.3h0.2M933.0 109.9h0.2M933.1 104.4h0.2M933.4 110.8h0.2M933.7 109.2h0.2M933.8 119.5h0.2M934.0 119.8h0.2M934.1 119.4h0.2M934.4 116.1h0.2M934.5 120.2h0.2M934.7 113.2h0.2M934.8 104.8h0.2M934.9 111.3h0.2M935.1 104.2h0.2M935.2 108.1h0.2M935.4 107.5h0.2M935.6 103.1h0.2M935.8 103.8h0.2M935.9 114.8h0.2M936.1 108.2h0.2M936.3 114.5h0.2M936.8 107.1h0.2M937.1 112.3h0.2M937.2 106.8h0.2M937.3 111.5h0.2M937.5 110.9h0.2M937.6 107.3h0.2M937.8 104.7h0.2M937.9 115.1h0.2M938.0 115.4h0.2M938.2 115.8h0.2M938.3 113.2h0.2M938.5 115.4h0.2M938.6 111.9h0.2M938.7 106.9h0.2M938.9 111.0h0.2M939.0 114.9h0.2M939.2 117.5h0.2M939.4 113.8h0.2M939.6 106.6h0.2M939.7 108.2h0.2M939.9 116.1h0.2M940.3 116.6h0.2M940.4 108.3h0.2M940.6 108.2h0.2M940.7 108.7h0.2M940.9 107.2h0.2M941.0 109.0h0.2M941.1 108.5h0.2M941.3 104.7h0.2M941.4 101.9h0.2M941.6 113.8h0.2M941.7 101.8h0.2M941.8 112.4h0.2M942.1 109.4h0.2M942.3 110.6h0.2M942.4 117.6h0.2M942.5 112.2h0.2M942.7 117.6h0.2M942.8 112.3h0.2M943.0 106.8h0.2M943.3 108.6h0.2M943.4 113.5h0.2M943.8 108.1h0.2M944.0 109.4h0.2M944.1 104.6h0.2M944.2 100.6h0.2M944.4 125.4h0.2M944.5 112.9h0.2M944.7 106.8h0.2M944.8 121.3h0.2M944.9 109.2h0.2M945.1 109.5h0.2M945.4 129.1h0.2M945.5 131.7h0.2M945.6 120.4h0.2M945.8 115.8h0.2M946.1 117.3h0.2M946.2 112.7h0.2M946.5 107.5h0.2M946.6 106.8h0.2M946.8 108.9h0.2M947.1 114.8h0.2M947.2 106.6h0.2M947.3 111.1h0.2M947.5 111.6h0.2M947.6 115.6h0.2M947.8 107.0h0.2M947.9 107.2h0.2M948.2 111.8h0.2M948.6 111.6h0.2M948.7 112.6h0.2M948.9 107.3h0.2M949.0 108.2h0.2M949.2 104.2h0.2M949.3 103.9h0.2M949.5 113.2h0.2M949.6 111.0h0.2M949.7 109.4h0.2M950.0 106.9h0.2M950.2 106.2h0.2M950.3 120.4h0.2M950.4 120.4h0.2M950.7 112.3h0.2M950.9 117.7h0.2M951.0 113.1h0.2M951.1 108.2h0.2M951.3 114.6h0.2M951.4 112.6h0.2M951.6 113.1h0.2M951.7 107.4h0.2M951.8 114.6h0.2M952.0 104.6h0.2M952.1 104.6h0.2M952.3 111.2h0.2M952.4 108.2h0.2M952.6 113.3h0.2M952.7 114.1h0.2M952.8 117.7h0.2M953.1 109.2h0.2M953.3 114.5h0.2M953.4 114.7h0.2M953.5 108.4h0.2M953.7 103.3h0.2M953.8 106.0h0.2M954.0 132.0h0.2M954.2 116.1h0.2M954.4 116.7h0.2M954.5 110.6h0.2M954.7 108.9h0.2M954.8 114.8h0.2M954.9 109.8h0.2M955.1 112.3h0.2M955.2 129.2h0.2M955.4 115.0h0.2M955.5 113.8h0.2M955.7 115.9h0.2M955.8 109.1h0.2M955.9 112.1h0.2M956.1 111.9h0.2M956.2 111.9h0.2M956.4 110.6h0.2M956.5 102.7h0.2M956.6 104.2h0.2M956.8 109.5h0.2M956.9 120.8h0.2M957.1 114.8h0.2M957.2 114.0h0.2M957.3 111.5h0.2M957.5 101.4h0.2M957.6 112.1h0.2M957.9 108.8h0.2M958.0 105.4h0.2M958.2 110.1h0.2M958.3 109.9h0.2M958.5 108.5h0.2M958.6 123.1h0.2M958.8 134.6h0.2M958.9 117.9h0.2M959.2 115.3h0.2M959.3 108.8h0.2M959.5 106.5h0.2M959.6 116.3h0.2M959.7 109.7h0.2M959.9 112.1h0.2M960.2 113.7h0.2M960.3 116.2h0.2M960.4 106.4h0.2M960.6 105.6h0.2M960.9 107.7h0.2M961.0 108.3h0.2M961.1 113.6h0.2M961.3 110.4h0.2M961.6 110.3h0.2M961.7 104.3h0.2M962.0 104.4h0.2M962.3 102.0h0.2M962.6 113.7h0.2M962.7 111.1h0.2M962.8 105.8h0.2M963.0 107.1h0.2M963.1 113.8h0.2M963.3 111.5h0.2M963.5 102.4h0.2M963.7 106.3h0.2M963.8 114.4h0.2M964.1 113.3h0.2M964.2 109.3h0.2M964.4 118.1h0.2M964.5 115.3h0.2M964.7 118.2h0.2M964.8 104.8h0.2M965.0 114.8h0.2M965.1 113.6h0.2M965.4 105.2h0.2M965.5 103.6h0.2M965.7 106.1h0.2M965.9 105.0h0.2M966.1 107.6h0.2M966.2 114.4h0.2M966.5 111.8h0.2M966.6 105.4h0.2M966.8 105.0h0.2M966.9 113.2h0.2M967.1 118.7h0.2M967.2 114.2h0.2M967.3 118.5h0.2M967.5 119.8h0.2M967.6 105.2h0.2M967.8 121.6h0.2M967.9 108.5h0.2M968.1 108.8h0.2M968.2 107.0h0.2M968.3 123.0h0.2M968.5 113.7h0.2M968.6 117.1h0.2M968.8 113.9h0.2M968.9 116.5h0.2M969.2 108.8h0.2M969.3 117.0h0.2M969.5 119.3h0.2M969.6 128.6h0.2M969.7 118.5h0.2M969.9 123.7h0.2M970.0 120.1h0.2M970.2 120.4h0.2M970.3 115.8h0.2M970.4 117.5h0.2M970.7 119.6h0.2M970.9 113.2h0.2M971.0 115.6h0.2M971.2 130.5h0.2M971.3 111.8h0.2M971.4 126.2h0.2M971.6 114.3h0.2M971.7 109.9h0.2M972.0 128.1h0.2M972.1 119.3h0.2M972.3 126.3h0.2M972.4 123.6h0.2M972.6 119.2h0.2M972.7 127.2h0.2M972.8 115.5h0.2M973.1 110.0h0.2M973.3 112.8h0.2M973.4 114.1h0.2M973.5 114.4h0.2M973.7 110.8h0.2M973.8 108.3h0.2M974.0 104.7h0.2M974.1 103.7h0.2M974.3 109.1h0.2M974.4 119.2h0.2M974.5 104.4h0.2M974.7 115.8h0.2M975.0 111.6h0.2M975.1 107.7h0.2M975.2 114.9h0.2M975.5 111.2h0.2M975.7 115.9h0.2M975.8 114.4h0.2M975.9 105.3h0.2M976.1 115.2h0.2M976.4 109.1h0.2M976.5 112.6h0.2M976.6 118.3h0.2M976.8 107.6h0.2M976.9 114.9h0.2M977.1 118.3h0.2M977.2 111.4h0.2M977.4 106.3h0.2M977.5 130.8h0.2M977.6 121.0h0.2M977.8 109.9h0.2M977.9 112.6h0.2M978.1 115.8h0.2M978.2 118.4h0.2M978.3 107.1h0.2M978.5 112.5h0.2M978.6 108.9h0.2M978.8 112.1h0.2M978.9 107.0h0.2M979.0 106.7h0.2M979.2 105.7h0.2M979.3 102.9h0.2M979.5 106.8h0.2M979.6 108.3h0.2M979.7 104.3h0.2M979.9 108.2h0.2M980.0 107.0h0.2M980.2 98.3h0.2M980.3 103.8h0.2M980.4 109.4h0.2M980.6 114.3h0.2M980.9 111.7h0.2M981.0 113.0h0.2M981.2 108.8h0.2M981.3 104.4h0.2M981.4 106.3h0.2M981.7 109.9h0.2M981.9 113.2h0.2M982.0 116.3h0.2M982.1 119.3h0.2M982.4 107.8h0.2M982.6 103.5h0.2M982.7 108.5h0.2M982.8 103.6h0.2M983.0 109.9h0.2M983.3 108.1h0.2M983.4 112.2h0.2M983.5 108.4h0.2M983.7 114.8h0.2M984.1 107.8h0.2M984.3 114.4h0.2M984.5 113.9h0.2M984.7 115.9h0.2M984.8 115.4h0.2M985.2 113.2h0.2M985.4 126.9h0.2M985.7 120.2h0.2M985.8 115.8h0.2M986.1 107.8h0.2M986.5 120.6h0.2M986.6 112.5h0.2M986.9 106.1h0.2M987.2 113.1h0.2M987.4 112.2h0.2M987.6 116.5h0.2M987.8 112.7h0.2M987.9 114.3h0.2M988.1 112.5h0.2M988.2 115.8h0.2M988.3 114.1h0.2M988.5 113.4h0.2M988.6 108.1h0.2M988.9 113.4h0.2M989.0 108.1h0.2M989.2 107.6h0.2M989.3 111.0h0.2M989.5 116.9h0.2M989.6 118.8h0.2M989.9 118.3h0.2M990.0 123.8h0.2M990.3 117.8h0.2M990.5 115.7h0.2M990.6 116.0h0.2M990.9 109.0h0.2M991.2 123.7h0.2M991.3 113.5h0.2M991.6 112.2h0.2M991.7 116.0h0.2M991.9 112.4h0.2M992.0 116.9h0.4M992.6 110.8h0.2M992.7 107.7h0.2M993.0 128.1h0.2M993.3 112.2h0.2M993.4 110.2h0.2M993.6 101.8h0.2M993.7 103.5h0.2M993.8 112.8h0.2M994.1 109.2h0.2M994.3 115.4h0.2M994.4 114.6h0.2M994.5 110.6h0.2M994.7 112.6h0.2M994.8 111.7h0.2M995.1 111.2h0.2M995.2 105.0h0.2M995.4 109.6h0.2M995.5 106.9h0.2M995.7 110.1h0.2M995.8 120.8h0.2M995.9 120.8h0.2M996.1 111.4h0.2M996.2 121.4h0.2M996.4 138.1h0.2M996.5 121.5h0.2M996.8 109.4h0.2M996.9 110.1h0.2M997.1 112.1h0.2M997.2 115.8h0.2M997.5 113.0h0.2M997.6 110.3h0.2M997.8 104.8h0.2M997.9 102.5h0.2M998.1 114.4h0.2M998.2 123.6h0.2M998.3 114.2h0.2M998.5 110.2h0.2M998.8 119.2h0.2M998.9 112.0h0.2M999.0 113.2h0.2M999.2 112.0h0.2M999.3 115.0h0.2M999.5 110.0h0.2M999.6 103.5h0.2M999.8 109.4h0.2M999.9 112.9h0.2M1000.0 110.1h0.2M1000.2 117.2h0.2M1000.3 111.8h0.2M1000.5 110.2h0.2M1000.9 110.8h0.2M1001.0 107.4h0.2M1001.3 113.9h0.2M1001.4 122.6h0.2M1001.6 108.2h0.2M1001.9 113.3h0.2M1002.0 110.6h0.2M1002.1 106.4h0.2M1002.4 115.2h0.2M1002.6 111.2h0.2M1002.7 111.6h0.2M1002.9 112.4h0.2M1003.0 104.3h0.2M1003.1 104.2h0.2M1003.3 111.4h0.2M1003.4 114.3h0.2M1003.8 105.1h0.2M1004.0 108.8h0.2M1004.1 131.0h0.2M1004.3 125.9h0.2M1004.4 115.4h0.2M1004.5 109.5h0.2M1004.7 106.6h0.2M1004.8 108.1h0.2M1005.0 107.8h0.2M1005.2 108.4h0.2M1005.4 127.1h0.2M1005.5 113.8h0.2M1005.7 103.7h0.2M1006.0 108.4h0.2M1006.1 115.3h0.2M1006.2 114.1h0.2M1006.4 116.1h0.2M1006.5 126.9h0.2M1006.7 111.5h0.2M1006.9 114.2h0.2M1007.1 116.5h0.2M1007.2 117.5h0.2M1007.5 108.4h0.2M1007.6 106.1h0.2M1007.8 114.8h0.2M1007.9 109.1h0.2M1008.1 103.9h0.2M1008.2 103.8h0.2M1008.3 107.7h0.2M1008.5 113.0h0.2M1008.9 102.9h0.2M1009.1 116.5h0.2M1009.2 105.7h0.2M1009.3 106.6h0.2M1009.8 115.0h0.2M1009.9 113.9h0.2M1010.0 114.1h0.2M1010.2 112.4h0.2M1010.3 110.2h0.2M1010.5 107.2h0.2M1010.9 110.1h0.2M1011.0 108.0h0.2M1011.2 108.4h0.2M1011.3 106.0h0.2M1011.7 114.1h0.2M1011.9 114.7h0.2M1012.0 110.8h0.2M1012.2 119.0h0.2M1012.3 110.7h0.2M1012.4 109.2h0.2M1012.6 113.3h0.2M1012.7 110.4h0.2M1013.0 112.0h0.2M1013.1 105.7h0.2M1013.3 112.2h0.2M1013.4 109.3h0.2M1013.6 114.8h0.2M1013.8 112.7h0.2M1014.0 105.6h0.2M1014.1 118.2h0.2M1014.3 109.8h0.2M1014.4 117.1h0.2M1014.5 109.8h0.2M1014.8 127.0h0.2M1015.0 117.8h0.2M1015.1 116.9h0.2M1015.3 113.3h0.2M1015.4 107.9h0.2M1015.5 109.2h0.2M1015.7 111.0h0.2M1016.0 108.5h0.2M1016.1 105.9h0.2M1016.4 113.2h0.2M1016.5 104.6h0.2M1016.7 113.4h0.2M1016.8 111.0h0.4M1017.4 111.3h0.2M1017.5 128.6h0.2M1017.6 127.8h0.2M1017.8 126.2h0.2M1017.9 122.5h0.2M1018.2 109.7h0.2M1018.5 110.7h0.2M1018.6 108.3h0.2M1018.8 110.3h0.2M1018.9 113.2h0.2M1019.1 107.3h0.2M1019.2 113.4h0.2M1019.3 126.4h0.2M1019.8 114.0h0.2M1019.9 109.4h0.2M1020.0 112.9h0.2M1020.2 117.3h0.2M1020.3 111.8h0.2M1020.5 117.2h0.2M1020.6 113.1h0.2M1021.0 103.9h0.2M1021.2 99.4h0.2M1021.3 103.6h0.2M1021.5 119.6h0.2M1021.6 108.9h0.2M1021.7 115.5h0.2M1021.9 107.5h0.2M1022.0 107.1h0.2M1022.2 133.4h0.2M1022.3 114.9h0.2M1022.4 125.7h0.2M1022.6 122.0h0.2M1022.7 116.8h0.2M1022.9 111.9h0.2M1023.0 114.8h0.2M1023.1 113.6h0.2M1023.3 108.4h0.2M1023.6 104.9h0.2M1023.7 106.6h0.2M1023.8 108.0h0.2M1024.0 106.2h0.4M1024.6 106.6h0.2M1024.8 112.5h0.2M1025.0 113.1h0.2M1025.1 110.0h0.2M1025.3 112.8h0.2M1025.4 105.8h0.2M1025.5 113.7h0.2M1025.7 112.2h0.2M1025.8 108.4h0.2M1026.0 115.0h0.2M1026.1 116.0h0.2M1026.2 108.7h0.2M1026.4 116.8h0.2M1026.5 110.3h0.2M1026.7 114.3h0.2M1026.8 111.6h0.2M1026.9 117.4h0.2M1027.1 117.2h0.2M1027.2 107.6h0.2M1027.4 102.3h0.2M1027.5 109.7h0.2M1027.8 109.1h0.2M1027.9 116.3h0.2M1028.1 108.5h0.2M1028.2 112.6h0.2M1028.4 113.5h0.2M1028.5 107.4h0.2M1028.6 115.6h0.2M1028.8 118.5h0.2M1029.1 113.1h0.2M1029.3 111.3h0.2M1029.5 105.5h0.2M1029.6 114.2h0.2M1029.8 114.0h0.2M1029.9 109.2h0.2M1030.0 108.8h0.2M1030.2 116.6h0.2M1030.3 109.7h0.2M1030.5 117.6h0.2M1030.6 105.2h0.2M1030.8 107.0h0.2M1030.9 112.8h0.2M1031.0 115.9h0.2M1031.2 110.9h0.2M1031.5 104.2h0.2M1031.6 102.6h0.2M1031.7 107.3h0.2M1031.9 115.6h0.2M1032.0 112.7h0.2M1032.2 120.0h0.2M1032.3 109.4h0.2M1032.4 123.2h0.2M1032.6 113.6h0.2M1032.7 112.7h0.2M1032.9 115.1h0.2M1033.0 108.7h0.2M1033.1 113.7h0.2M1033.3 115.6h0.2M1033.4 110.9h0.2M1033.9 106.2h0.2M1034.0 126.2h0.2M1034.1 127.4h0.2M1034.3 117.9h0.2M1034.4 121.2h0.2M1034.6 116.7h0.2M1035.0 117.6h0.2M1035.1 114.2h0.2M1035.3 117.3h0.2M1035.4 110.6h0.2M1035.5 104.0h0.2M1035.7 111.4h0.2M1035.8 107.9h0.4M1036.4 105.9h0.2M1036.5 105.8h0.2M1036.7 112.5h0.2M1036.8 115.1h0.2M1037.0 111.0h0.2M1037.1 106.4h0.2M1037.2 111.5h0.2M1037.4 116.0h0.2M1037.5 106.8h0.2M1037.7 118.1h0.2M1037.8 110.7h0.2M1037.9 106.8h0.2M1038.1 113.2h0.2M1038.2 109.7h0.2M1038.4 120.7h0.2M1038.5 120.1h0.2M1038.6 116.4h0.2M1038.8 106.0h0.2M1038.9 106.2h0.2M1039.1 103.9h0.2M1039.2 103.9h0.2M1039.3 113.5h0.2M1039.5 111.0h0.2M1039.8 119.2h0.2M1039.9 113.3h0.2M1040.1 114.6h0.2M1040.2 113.8h0.2M1040.3 112.6h0.2M1040.6 107.6h0.2M1040.9 104.1h0.2M1041.0 101.7h0.2M1041.2 111.4h0.2M1041.3 118.7h0.2M1041.5 110.3h0.2M1041.6 107.2h0.2M1041.9 114.5h0.2M1042.0 109.9h0.2M1042.2 111.7h0.2M1042.3 112.8h0.2M1042.4 117.5h0.2M1042.6 112.1h0.2M1042.7 110.0h0.2M1042.9 112.4h0.2M1043.0 112.4h0.2M1043.2 116.0h0.2M1043.3 109.8h0.2M1043.4 106.1h0.2M1043.6 105.1h0.2M1043.7 119.2h0.2M1043.9 111.7h0.2M1044.0 114.9h0.2M1044.1 106.6h0.2M1044.3 102.7h0.2M1044.4 109.7h0.2M1044.6 107.7h0.2M1044.7 110.3h0.2M1044.8 119.1h0.2M1045.0 108.5h0.2M1045.1 111.8h0.2M1045.4 114.5h0.2M1045.5 108.6h0.2M1045.7 108.1h0.2M1045.8 106.3h0.2M1046.0 102.5h0.2M1046.3 110.0h0.2M1046.4 108.1h0.2M1046.7 112.0h0.2M1047.0 108.4h0.2M1047.1 101.6h0.2M1047.2 107.2h0.2M1047.4 107.5h0.2M1047.5 114.1h0.2M1047.7 107.4h0.2M1047.8 113.2h0.2M1047.9 102.2h0.2M1048.1 113.9h0.2M1048.2 105.7h0.2M1048.4 119.3h0.2M1048.5 116.7h0.2M1048.6 130.3h0.2M1048.9 116.4h0.2M1049.2 110.6h0.2M1049.3 110.1h0.2M1049.5 106.0h0.2M1049.6 104.7h0.2M1049.8 106.5h0.2M1049.9 102.5h0.2M1050.1 107.7h0.2M1050.2 106.5h0.2M1050.3 107.7h0.2M1050.5 110.0h0.2M1050.8 119.0h0.2M1050.9 113.1h0.2M1051.0 110.2h0.2M1051.2 111.5h0.2M1051.3 112.7h0.2M1051.5 104.8h0.2M1051.7 107.6h0.2M1051.9 113.5h0.2M1052.0 112.6h0.2M1052.3 108.0h0.2M1052.4 107.9h0.2M1052.6 101.7h0.2M1052.7 103.3h0.2M1052.9 111.3h0.2M1053.0 118.0h0.2M1053.2 106.0h0.2M1053.3 135.4h0.2M1053.4 123.3h0.2M1053.6 112.2h0.2M1053.7 108.6h0.2M1053.9 116.6h0.2M1054.0 116.2h0.2M1054.1 107.6h0.2M1054.3 110.7h0.2M1054.4 105.3h0.2M1054.6 110.0h0.2M1054.7 118.4h0.2M1055.0 111.5h0.2M1055.3 110.6h0.2M1055.4 108.7h0.2M1055.5 104.4h0.2M1055.7 104.9h0.2M1055.8 107.7h0.2M1056.0 107.8h0.2M1056.1 107.3h0.2M1056.3 116.4h0.2M1056.5 116.2h0.2M1056.7 118.0h0.2M1056.8 114.8h0.2M1057.0 121.9h0.2M1057.2 110.7h0.2M1057.4 117.9h0.2M1057.5 126.1h0.2M1057.7 115.0h0.2M1057.8 115.6h0.2M1058.2 106.6h0.2M1058.4 105.4h0.2M1058.5 118.4h0.2M1058.6 117.3h0.2M1058.8 115.3h0.2M1059.1 113.4h0.2M1059.2 109.1h0.2M1059.5 108.7h0.2M1059.6 113.5h0.2M1059.8 111.2h0.2M1059.9 110.4h0.2M1060.1 112.4h0.2M1060.2 104.8h0.2M1060.5 111.0h0.2M1060.6 110.3h0.2M1060.8 102.2h0.2M1060.9 104.4h0.2M1061.2 113.9h0.2M1061.5 115.8h0.2M1061.6 109.3h0.2M1061.7 102.8h0.2M1061.9 106.8h0.2M1062.0 108.4h0.2M1062.2 112.7h0.2M1062.3 118.4h0.2M1062.5 115.1h0.2M1062.7 111.7h0.2M1062.9 105.9h0.2M1063.0 111.7h0.2M1063.2 109.7h0.2M1063.3 113.6h0.2M1063.4 119.1h0.2M1063.6 110.8h0.2M1063.7 108.7h0.2M1064.0 112.1h0.2M1064.1 105.8h0.2M1064.3 113.6h0.2M1064.4 114.0h0.2M1064.7 122.2h0.2M1064.8 113.6h0.2M1065.0 111.4h0.2" stroke="#231f20" stroke-width="0.95" stroke-linecap="square" fill="none"/>
<rect x="833.60" y="50.80" width="235.70" height="143.50" fill="none" stroke="#58595b" stroke-width="1.4"/>
<path d="M838.00 194.30v-3.20M838.00 50.80v3.20M908.45 194.30v-3.20M908.45 50.80v3.20M978.90 194.30v-3.20M978.90 50.80v3.20M1049.35 194.30v-3.20M1049.35 50.80v3.20M838.00 194.30v-2.00M838.00 50.80v2.00M852.09 194.30v-2.00M852.09 50.80v2.00M866.18 194.30v-2.00M866.18 50.80v2.00M880.27 194.30v-2.00M880.27 50.80v2.00M894.36 194.30v-2.00M894.36 50.80v2.00M908.45 194.30v-2.00M908.45 50.80v2.00M922.54 194.30v-2.00M922.54 50.80v2.00M936.63 194.30v-2.00M936.63 50.80v2.00M950.72 194.30v-2.00M950.72 50.80v2.00M964.81 194.30v-2.00M964.81 50.80v2.00M978.90 194.30v-2.00M978.90 50.80v2.00M992.99 194.30v-2.00M992.99 50.80v2.00M1007.08 194.30v-2.00M1007.08 50.80v2.00M1021.17 194.30v-2.00M1021.17 50.80v2.00M1035.26 194.30v-2.00M1035.26 50.80v2.00M1049.35 194.30v-2.00M1049.35 50.80v2.00M1063.44 194.30v-2.00M1063.44 50.80v2.00M833.60 193.20h3.20M1069.30 193.20h-3.20M833.60 157.65h3.20M1069.30 157.65h-3.20M833.60 122.10h3.20M1069.30 122.10h-3.20M833.60 86.55h3.20M1069.30 86.55h-3.20M833.60 51.00h3.20M1069.30 51.00h-3.20M833.60 193.20h2.00M1069.30 193.20h-2.00M833.60 186.09h2.00M1069.30 186.09h-2.00M833.60 178.98h2.00M1069.30 178.98h-2.00M833.60 171.87h2.00M1069.30 171.87h-2.00M833.60 164.76h2.00M1069.30 164.76h-2.00M833.60 157.65h2.00M1069.30 157.65h-2.00M833.60 150.54h2.00M1069.30 150.54h-2.00M833.60 143.43h2.00M1069.30 143.43h-2.00M833.60 136.32h2.00M1069.30 136.32h-2.00M833.60 129.21h2.00M1069.30 129.21h-2.00M833.60 122.10h2.00M1069.30 122.10h-2.00M833.60 114.99h2.00M1069.30 114.99h-2.00M833.60 107.88h2.00M1069.30 107.88h-2.00M833.60 100.77h2.00M1069.30 100.77h-2.00M833.60 93.66h2.00M1069.30 93.66h-2.00M833.60 86.55h2.00M1069.30 86.55h-2.00M833.60 79.44h2.00M1069.30 79.44h-2.00M833.60 72.33h2.00M1069.30 72.33h-2.00M833.60 65.22h2.00M1069.30 65.22h-2.00M833.60 58.11h2.00M1069.30 58.11h-2.00M833.60 51.00h2.00M1069.30 51.00h-2.00" stroke="#58595b" stroke-width="0.8" fill="none"/>
<g font-family='"Liberation Sans", Arial, Helvetica, sans-serif'>
<text x="828.90" y="197.10" font-size="10.3" text-anchor="end" fill="#231f20" stroke="#231f20" stroke-width="0.15" >0.0</text>
<text x="828.90" y="161.55" font-size="10.3" text-anchor="end" fill="#231f20" stroke="#231f20" stroke-width="0.15" >0.5</text>
<text x="828.90" y="126.00" font-size="10.3" text-anchor="end" fill="#231f20" stroke="#231f20" stroke-width="0.15" >1.0</text>
<text x="828.90" y="90.45" font-size="10.3" text-anchor="end" fill="#231f20" stroke="#231f20" stroke-width="0.15" >1.5</text>
<text x="828.90" y="54.90" font-size="10.3" text-anchor="end" fill="#231f20" stroke="#231f20" stroke-width="0.15" >2.0</text>
<text x="838.00" y="206.10" font-size="10.3" text-anchor="middle" fill="#231f20" stroke="#231f20" stroke-width="0.15" >0</text>
<text x="908.45" y="206.10" font-size="10.3" text-anchor="middle" fill="#231f20" stroke="#231f20" stroke-width="0.15" >500</text>
<text x="978.90" y="206.10" font-size="10.3" text-anchor="middle" fill="#231f20" stroke="#231f20" stroke-width="0.15" >1000</text>
<text x="1049.35" y="206.10" font-size="10.3" text-anchor="middle" fill="#231f20" stroke="#231f20" stroke-width="0.15" >1500</text>
<text x="951.60" y="218.40" font-size="10.6" text-anchor="middle" fill="#231f20" stroke="#231f20" stroke-width="0.15" >MCMC step</text>
<text x="0.00" y="0.00" font-size="10.3" text-anchor="start" fill="#231f20" stroke="#231f20" stroke-width="0.15" transform="translate(807.6,191.2) rotate(-90)">Inferred mutational distance <tspan font-family='"Liberation Serif", "DejaVu Serif", serif' font-style="italic">μ</tspan></text>
</g>
<rect x="1859.60" y="355.70" width="10.37" height="1.15" fill="#414042" stroke="#2b2a2b" stroke-width="0.6"/>
<rect x="1869.96" y="354.90" width="10.37" height="1.95" fill="#414042" stroke="#2b2a2b" stroke-width="0.6"/>
<rect x="1880.33" y="353.10" width="10.37" height="3.75" fill="#414042" stroke="#2b2a2b" stroke-width="0.6"/>
<rect x="1890.69" y="347.00" width="10.37" height="9.85" fill="#414042" stroke="#2b2a2b" stroke-width="0.6"/>
<rect x="1901.06" y="339.00" width="10.37" height="17.85" fill="#414042" stroke="#2b2a2b" stroke-width="0.6"/>
<rect x="1911.42" y="328.30" width="10.37" height="28.55" fill="#414042" stroke="#2b2a2b" stroke-width="0.6"/>
<rect x="1921.79" y="306.20" width="10.37" height="50.65" fill="#414042" stroke="#2b2a2b" stroke-width="0.6"/>
<rect x="1932.15" y="263.20" width="10.37" height="93.65" fill="#414042" stroke="#2b2a2b" stroke-width="0.6"/>
<rect x="1942.52" y="187.70" width="10.37" height="169.15" fill="#414042" stroke="#2b2a2b" stroke-width="0.6"/>
<rect x="1952.88" y="129.20" width="10.37" height="227.65" fill="#414042" stroke="#2b2a2b" stroke-width="0.6"/>
<rect x="1963.25" y="76.00" width="10.37" height="280.85" fill="#414042" stroke="#2b2a2b" stroke-width="0.6"/>
<rect x="1973.62" y="40.20" width="10.37" height="316.65" fill="#414042" stroke="#2b2a2b" stroke-width="0.6"/>
<rect x="1456.00" y="23.80" width="538.80" height="333.05" fill="none" stroke="#231f20" stroke-width="1.85"/>
<path d="M1466.80 356.85v-6.60M1466.80 23.80v6.60M1570.20 356.85v-6.60M1570.20 23.80v6.60M1673.60 356.85v-6.60M1673.60 23.80v6.60M1777.00 356.85v-6.60M1777.00 23.80v6.60M1880.40 356.85v-6.60M1880.40 23.80v6.60M1983.80 356.85v-6.60M1983.80 23.80v6.60M1466.80 356.85v-3.90M1466.80 23.80v3.90M1492.65 356.85v-3.90M1492.65 23.80v3.90M1518.50 356.85v-3.90M1518.50 23.80v3.90M1544.35 356.85v-3.90M1544.35 23.80v3.90M1570.20 356.85v-3.90M1570.20 23.80v3.90M1596.05 356.85v-3.90M1596.05 23.80v3.90M1621.90 356.85v-3.90M1621.90 23.80v3.90M1647.75 356.85v-3.90M1647.75 23.80v3.90M1673.60 356.85v-3.90M1673.60 23.80v3.90M1699.45 356.85v-3.90M1699.45 23.80v3.90M1725.30 356.85v-3.90M1725.30 23.80v3.90M1751.15 356.85v-3.90M1751.15 23.80v3.90M1777.00 356.85v-3.90M1777.00 23.80v3.90M1802.85 356.85v-3.90M1802.85 23.80v3.90M1828.70 356.85v-3.90M1828.70 23.80v3.90M1854.55 356.85v-3.90M1854.55 23.80v3.90M1880.40 356.85v-3.90M1880.40 23.80v3.90M1906.25 356.85v-3.90M1906.25 23.80v3.90M1932.10 356.85v-3.90M1932.10 23.80v3.90M1957.95 356.85v-3.90M1957.95 23.80v3.90M1983.80 356.85v-3.90M1983.80 23.80v3.90M1456.00 356.77h6.60M1994.80 356.77h-6.60M1456.00 312.81h6.60M1994.80 312.81h-6.60M1456.00 268.86h6.60M1994.80 268.86h-6.60M1456.00 224.90h6.60M1994.80 224.90h-6.60M1456.00 180.95h6.60M1994.80 180.95h-6.60M1456.00 136.99h6.60M1994.80 136.99h-6.60M1456.00 93.04h6.60M1994.80 93.04h-6.60M1456.00 49.08h6.60M1994.80 49.08h-6.60M1456.00 356.77h3.90M1994.80 356.77h-3.90M1456.00 347.98h3.90M1994.80 347.98h-3.90M1456.00 339.19h3.90M1994.80 339.19h-3.90M1456.00 330.40h3.90M1994.80 330.40h-3.90M1456.00 321.61h3.90M1994.80 321.61h-3.90M1456.00 312.81h3.90M1994.80 312.81h-3.90M1456.00 304.02h3.90M1994.80 304.02h-3.90M1456.00 295.23h3.90M1994.80 295.23h-3.90M1456.00 286.44h3.90M1994.80 286.44h-3.90M1456.00 277.65h3.90M1994.80 277.65h-3.90M1456.00 268.86h3.90M1994.80 268.86h-3.90M1456.00 260.07h3.90M1994.80 260.07h-3.90M1456.00 251.28h3.90M1994.80 251.28h-3.90M1456.00 242.49h3.90M1994.80 242.49h-3.90M1456.00 233.70h3.90M1994.80 233.70h-3.90M1456.00 224.90h3.90M1994.80 224.90h-3.90M1456.00 216.11h3.90M1994.80 216.11h-3.90M1456.00 207.32h3.90M1994.80 207.32h-3.90M1456.00 198.53h3.90M1994.80 198.53h-3.90M1456.00 189.74h3.90M1994.80 189.74h-3.90M1456.00 180.95h3.90M1994.80 180.95h-3.90M1456.00 172.16h3.90M1994.80 172.16h-3.90M1456.00 163.37h3.90M1994.80 163.37h-3.90M1456.00 154.58h3.90M1994.80 154.58h-3.90M1456.00 145.79h3.90M1994.80 145.79h-3.90M1456.00 136.99h3.90M1994.80 136.99h-3.90M1456.00 128.20h3.90M1994.80 128.20h-3.90M1456.00 119.41h3.90M1994.80 119.41h-3.90M1456.00 110.62h3.90M1994.80 110.62h-3.90M1456.00 101.83h3.90M1994.80 101.83h-3.90M1456.00 93.04h3.90M1994.80 93.04h-3.90M1456.00 84.25h3.90M1994.80 84.25h-3.90M1456.00 75.46h3.90M1994.80 75.46h-3.90M1456.00 66.67h3.90M1994.80 66.67h-3.90M1456.00 57.88h3.90M1994.80 57.88h-3.90M1456.00 49.08h3.90M1994.80 49.08h-3.90M1456.00 40.29h3.90M1994.80 40.29h-3.90M1456.00 31.50h3.90M1994.80 31.50h-3.90" stroke="#231f20" stroke-width="1.75" fill="none"/>
<g font-family='"Liberation Sans", Arial, Helvetica, sans-serif'>
<text x="0.00" y="0.00" font-size="40" text-anchor="start" fill="#231f20" stroke="#231f20" stroke-width="0.4" font-weight="bold" transform="translate(1358.6,30.0) scale(1.02,1)">c</text>
<text x="1442.70" y="365.37" font-size="25" text-anchor="end" fill="#231f20" stroke="#231f20" stroke-width="0.4" >0</text>
<text x="1442.70" y="321.42" font-size="25" text-anchor="end" fill="#231f20" stroke="#231f20" stroke-width="0.4" >50</text>
<text x="1442.70" y="277.46" font-size="25" text-anchor="end" fill="#231f20" stroke="#231f20" stroke-width="0.4" >100</text>
<text x="1442.70" y="233.50" font-size="25" text-anchor="end" fill="#231f20" stroke="#231f20" stroke-width="0.4" >150</text>
<text x="1442.70" y="189.55" font-size="25" text-anchor="end" fill="#231f20" stroke="#231f20" stroke-width="0.4" >200</text>
<text x="1442.70" y="145.59" font-size="25" text-anchor="end" fill="#231f20" stroke="#231f20" stroke-width="0.4" >250</text>
<text x="1442.70" y="101.64" font-size="25" text-anchor="end" fill="#231f20" stroke="#231f20" stroke-width="0.4" >300</text>
<text x="1442.70" y="57.68" font-size="25" text-anchor="end" fill="#231f20" stroke="#231f20" stroke-width="0.4" >350</text>
<text x="1466.80" y="388.60" font-size="25" text-anchor="middle" fill="#231f20" stroke="#231f20" stroke-width="0.4" >0.0</text>
<text x="1570.20" y="388.60" font-size="25" text-anchor="middle" fill="#231f20" stroke="#231f20" stroke-width="0.4" >0.2</text>
<text x="1673.60" y="388.60" font-size="25" text-anchor="middle" fill="#231f20" stroke="#231f20" stroke-width="0.4" >0.4</text>
<text x="1777.00" y="388.60" font-size="25" text-anchor="middle" fill="#231f20" stroke="#231f20" stroke-width="0.4" >0.6</text>
<text x="1880.40" y="388.60" font-size="25" text-anchor="middle" fill="#231f20" stroke="#231f20" stroke-width="0.4" >0.8</text>
<text x="1983.80" y="388.60" font-size="25" text-anchor="middle" fill="#231f20" stroke="#231f20" stroke-width="0.4" >1.0</text>
<text x="0.00" y="0.00" font-size="25" text-anchor="middle" fill="#231f20" stroke="#231f20" stroke-width="0.4" transform="translate(1378.3,189.5) rotate(-90)">Count</text>
<text x="1558.60" y="426.30" font-size="25" text-anchor="start" fill="#231f20" stroke="#231f20" stroke-width="0.4" >Inferred per cell survival rate <tspan font-family='"Liberation Serif", "DejaVu Serif", serif' font-style="italic">β</tspan></text>
<text x="1483.20" y="284.70" font-size="25" text-anchor="start" fill="#231f20" stroke="#231f20" stroke-width="0.4" ><tspan font-family='"Liberation Serif", "DejaVu Serif", serif' font-style="italic">β</tspan> = 0.96</text>
<text x="1573.10" y="267.40" font-size="16.5" text-anchor="start" fill="#231f20" stroke="#231f20" stroke-width="0.4" >+0.002</text>
<text x="1573.10" y="292.00" font-size="16.5" text-anchor="start" fill="#231f20" stroke="#231f20" stroke-width="0.4" >−0.004</text>
</g>
<path d="M1525.7 139.3h0.2M1525.8 129.9h0.2M1526.0 127.7h0.2M1526.3 122.7h0.2M1526.5 113.0h0.2M1526.8 103.7h0.2M1527.0 103.1h0.2M1527.1 101.6h0.2M1527.3 98.8h0.2M1527.4 94.8h0.2M1527.7 89.0h0.2M1528.0 85.9h0.2M1528.2 81.0h0.2M1528.4 79.7h0.2M1528.7 74.8h0.2M1528.8 69.7h0.2M1528.9 71.0h0.2M1529.2 67.4h0.2M1529.4 68.7h0.2M1529.5 67.5h0.2M1529.6 67.9h0.2M1529.8 63.8h0.2M1529.9 69.4h0.2M1530.1 69.3h0.2M1530.4 72.0h0.2M1530.5 63.3h0.2M1530.8 69.4h0.2M1530.9 69.3h0.2M1531.1 68.0h0.2M1531.5 67.9h0.2M1531.6 62.7h0.2M1531.8 61.4h0.2M1531.9 73.1h0.2M1532.0 66.8h0.2M1532.2 63.4h0.2M1532.3 67.5h0.2M1532.5 65.6h0.2M1532.6 63.8h0.2M1532.8 60.4h0.2M1532.9 60.4h0.2M1533.0 63.5h0.2M1533.2 64.0h0.2M1533.5 61.4h0.2M1533.6 62.2h0.2M1533.7 68.3h0.2M1533.9 64.6h0.2M1534.0 70.3h0.2M1534.2 78.5h0.2M1534.3 74.5h0.2M1534.4 72.8h0.2M1534.6 65.5h0.2M1534.7 72.9h0.2M1535.1 70.8h0.2M1535.3 62.8h0.2M1535.4 74.7h0.2M1535.6 73.5h0.2M1535.7 67.8h0.2M1535.9 73.1h0.2M1536.0 70.8h0.2M1536.1 66.4h0.2M1536.3 62.0h0.2M1536.4 66.0h0.2M1536.6 65.6h0.2M1536.7 63.7h0.2M1536.8 61.1h0.2M1537.0 65.6h0.2M1537.3 61.9h0.2M1537.4 65.2h0.2M1537.5 73.6h0.2M1537.7 67.2h0.2M1537.8 66.3h0.2M1538.0 61.3h0.2M1538.1 63.7h0.2M1538.2 66.2h0.2M1538.4 63.6h0.2M1538.7 60.2h0.2M1539.0 66.1h0.2M1539.1 62.2h0.2M1539.4 60.3h0.2M1539.5 60.5h0.2M1539.7 68.2h0.2M1539.8 61.8h0.2M1539.9 61.0h0.2M1540.1 63.1h0.2M1540.2 63.8h0.2M1540.5 67.2h0.2M1540.8 65.4h0.2M1540.9 62.3h0.2M1541.1 61.6h0.2M1541.2 64.1h0.2M1541.4 67.3h0.2M1541.5 70.3h0.2M1541.6 70.4h0.2M1541.8 70.4h0.2M1541.9 62.7h0.2M1542.2 68.5h0.2M1542.3 64.9h0.2M1542.5 65.4h0.2M1542.6 61.1h0.2M1543.0 60.6h0.2M1543.2 63.9h0.2M1543.5 67.3h0.2M1543.6 62.1h0.2M1543.9 63.9h0.2M1544.0 67.7h0.2M1544.2 75.8h0.2M1544.5 71.4h0.2M1544.6 64.4h0.2M1544.7 60.2h0.2M1544.9 60.4h0.2M1545.0 65.8h0.2M1545.2 64.2h0.2M1545.4 65.3h0.2M1545.6 68.1h0.2M1545.7 68.5h0.2M1545.9 71.6h0.2M1546.0 67.2h0.2M1546.1 70.1h0.2M1546.4 68.7h0.2M1546.6 68.9h0.2M1546.7 65.8h0.2M1546.9 66.7h0.2M1547.1 66.1h0.2M1547.3 60.6h0.2M1547.4 61.6h0.2M1547.6 65.7h0.2M1547.7 67.5h0.2M1547.8 72.0h0.2M1548.0 65.7h0.2M1548.1 60.8h0.2M1548.3 69.3h0.2M1548.4 61.9h0.2M1548.5 68.9h0.2M1548.7 71.4h0.2M1549.0 71.9h0.2M1549.1 68.6h0.2M1549.2 68.5h0.2M1549.4 63.8h0.2M1549.5 67.1h0.2M1549.7 64.7h0.2M1549.8 63.3h0.2M1550.0 62.8h0.2M1550.1 68.1h0.2M1550.2 67.5h0.2M1550.4 62.5h0.2M1550.5 62.3h0.2M1550.7 60.4h0.2M1550.8 60.6h0.2M1550.9 60.2h0.2M1551.1 66.8h0.2M1551.2 63.4h0.2M1551.4 64.8h0.2M1551.5 61.8h0.2M1551.6 63.9h0.2M1551.8 64.2h0.2M1551.9 72.1h0.2M1552.1 63.1h0.2M1552.2 69.0h0.2M1552.3 62.8h0.2M1552.5 62.4h0.2M1552.8 60.4h0.2M1552.9 71.1h0.2M1553.1 66.1h0.2M1553.2 63.3h0.2M1553.5 67.6h0.2M1553.6 66.8h0.4M1554.2 69.7h0.2M1554.3 65.4h0.2M1554.5 60.9h0.2M1554.6 60.4h0.2M1554.7 66.5h0.2M1554.9 76.9h0.2M1555.0 69.1h0.2M1555.2 62.9h0.2M1555.3 62.0h0.2M1555.5 69.0h0.2M1555.6 71.3h0.2M1555.7 77.9h0.2M1555.9 67.0h0.2M1556.0 70.1h0.2M1556.2 68.9h0.2M1556.3 69.2h0.2M1556.6 64.5h0.2M1556.7 64.8h0.2M1556.9 65.0h0.2M1557.0 70.5h0.2M1557.1 71.1h0.2M1557.3 63.8h0.2M1557.4 61.6h0.2M1557.6 68.5h0.2M1557.7 68.2h0.2M1557.8 67.2h0.2M1558.0 66.1h0.2M1558.1 61.3h0.2M1558.3 69.6h0.2M1558.4 71.4h0.2M1558.6 62.3h0.2M1559.0 63.4h0.2M1559.1 60.1h0.2M1559.3 65.1h0.2M1559.7 66.5h0.2M1559.8 68.2h0.2M1560.0 67.9h0.2M1560.1 71.8h0.2M1560.2 67.7h0.2M1560.4 62.4h0.2M1560.5 67.9h0.2M1560.7 70.1h0.2M1560.8 64.2h0.2M1561.0 67.4h0.2M1561.1 69.8h0.2M1561.5 64.1h0.2M1561.7 64.8h0.2M1561.8 63.2h0.2M1561.9 66.7h0.2M1562.1 61.2h0.2M1562.2 64.0h0.2M1562.4 61.9h0.2M1562.5 63.3h0.2M1562.6 68.1h0.2M1562.8 65.6h0.2M1562.9 62.4h0.2M1563.1 63.9h0.2M1563.2 63.9h0.2M1563.3 65.3h0.2M1563.5 64.1h0.2M1563.6 63.0h0.2M1563.8 61.6h0.2M1564.1 67.1h0.2M1564.2 64.9h0.2M1564.3 67.3h0.2M1564.5 61.3h0.2M1564.6 67.7h0.2M1564.8 79.7h0.2M1564.9 80.3h0.2M1565.0 67.0h0.2M1565.2 69.3h0.2M1565.3 68.3h0.2M1565.5 65.1h0.2M1565.6 66.9h0.2M1565.7 63.0h0.2M1565.9 64.0h0.2M1566.2 69.8h0.2M1566.4 68.9h0.2M1566.6 66.7h0.2M1566.9 63.8h0.2M1567.0 63.8h0.2M1567.4 66.5h0.2M1567.7 65.5h0.2M1568.0 64.6h0.2M1568.3 76.0h0.2M1568.6 74.1h0.2M1568.7 70.8h0.2M1568.8 63.3h0.2M1569.0 62.5h0.2M1569.1 63.7h0.2M1569.6 61.0h0.2M1569.8 60.3h0.2M1570.0 65.1h0.2M1570.1 70.0h0.2M1570.3 67.7h0.2M1570.4 65.5h0.2M1570.5 62.3h0.2M1570.7 62.8h0.2M1570.8 65.1h0.2M1571.0 66.0h0.2M1571.1 68.1h0.2M1571.2 69.8h0.2M1571.4 69.3h0.2M1571.5 61.7h0.2M1571.7 68.5h0.2M1571.8 75.1h0.2M1571.9 66.3h0.2M1572.1 70.9h0.2M1572.2 62.5h0.2M1572.4 60.5h0.2M1572.5 60.7h0.2M1572.7 67.9h0.2M1572.8 66.3h0.2M1572.9 72.9h0.2M1573.1 65.4h0.2M1573.2 64.6h0.2M1573.5 64.5h0.2M1573.6 64.8h0.2M1573.8 64.4h0.2M1573.9 62.2h0.2M1574.1 82.4h0.2M1574.3 72.9h0.2M1574.5 69.2h0.2M1574.6 73.2h0.2M1574.8 67.8h0.2M1574.9 66.0h0.2M1575.0 64.8h0.2M1575.2 72.7h0.2M1575.3 70.3h0.2M1575.5 79.4h0.2M1575.6 73.3h0.2M1575.9 64.1h0.2M1576.0 60.6h0.2M1576.2 63.3h0.2M1576.3 68.5h0.2M1576.6 61.4h0.2M1576.9 66.8h0.2M1577.0 61.4h0.2M1577.2 60.4h0.2M1577.3 63.0h0.2M1577.4 63.4h0.2M1577.6 60.9h0.2M1577.7 68.1h0.2M1577.9 62.4h0.2M1578.0 66.1h0.2M1578.3 62.8h0.2M1578.4 67.6h0.2M1578.6 67.1h0.2M1578.7 63.8h0.2M1578.9 68.8h0.2M1579.3 68.5h0.2M1579.6 65.9h0.2M1579.7 66.7h0.2M1579.8 62.5h0.2M1580.1 60.2h0.2M1580.3 60.5h0.2M1580.4 63.8h0.2M1580.5 64.6h0.2M1580.7 69.3h0.2M1580.8 71.5h0.2M1581.0 66.4h0.2M1581.1 71.3h0.2M1581.4 65.1h0.2M1581.5 65.0h0.2M1581.7 76.3h0.2M1582.1 71.5h0.2M1582.2 72.2h0.2M1582.4 70.1h0.2M1582.5 66.1h0.2M1582.7 65.7h0.2M1582.8 72.8h0.2M1582.9 64.2h0.2M1583.2 70.0h0.2M1583.4 70.3h0.2M1583.5 70.5h0.2M1583.7 73.6h0.2M1583.8 63.9h0.2M1583.9 63.2h0.2M1584.1 74.2h0.2M1584.4 65.5h0.2M1584.5 66.9h0.2M1584.6 65.4h0.2M1584.8 61.5h0.2M1584.9 63.8h0.2M1585.3 65.7h0.2M1585.5 64.1h0.2M1585.6 67.0h0.2M1585.8 79.3h0.2M1586.0 69.0h0.2M1586.2 62.2h0.2M1586.3 69.3h0.2M1586.5 69.6h0.2M1586.6 64.9h0.2M1586.9 65.3h0.2M1587.0 64.2h0.2M1587.2 62.2h0.2M1587.6 69.0h0.2M1587.7 66.5h0.2M1588.0 60.7h0.2M1588.2 60.8h0.2M1588.4 64.5h0.2M1588.7 71.1h0.2M1588.9 69.0h0.2M1589.0 68.0h0.2M1589.2 63.9h0.2M1589.3 69.3h0.2M1589.4 67.8h0.2M1589.6 69.5h0.2M1589.9 67.1h0.2M1590.3 62.6h0.2M1590.4 61.3h0.2M1590.6 65.2h0.2M1590.7 70.5h0.2M1590.8 72.5h0.2M1591.0 67.2h0.2M1591.1 76.4h0.2M1591.3 72.8h0.2M1591.5 71.5h0.2M1591.7 66.7h0.2M1591.8 65.9h0.2M1592.0 69.8h0.2M1592.1 63.3h0.2M1592.3 60.9h0.2M1592.4 66.6h0.2M1592.7 63.1h0.2M1592.8 61.6h0.2M1593.0 71.5h0.2M1593.1 63.1h0.2M1593.2 60.8h0.2M1593.4 60.3h0.2M1593.5 69.6h0.2M1593.8 71.0h0.2M1593.9 64.3h0.2M1594.1 60.6h0.2M1594.2 69.3h0.2M1594.4 63.6h0.2M1594.5 60.3h0.2M1594.6 60.6h0.2M1594.9 62.2h0.2M1595.1 62.0h0.2M1595.2 60.5h0.2M1595.4 60.4h0.2M1595.5 67.4h0.2M1595.6 63.3h0.2M1595.8 67.9h0.2M1596.1 71.3h0.2M1596.3 64.4h0.2M1596.6 67.7h0.2M1596.8 66.1h0.2M1597.0 65.8h0.2M1597.2 68.9h0.2M1597.6 67.7h0.2M1597.8 72.2h0.2M1597.9 63.6h0.2M1598.0 61.7h0.2M1598.2 68.1h0.2M1598.3 63.5h0.2M1598.5 86.8h0.2M1598.6 69.3h0.2M1598.9 65.9h0.2M1599.0 74.1h0.2M1599.4 72.9h0.2M1599.6 63.1h0.2M1599.7 69.7h0.2M1599.9 68.4h0.2M1600.0 68.1h0.2M1600.1 63.4h0.2M1600.3 60.2h0.2M1600.4 63.3h0.2M1600.7 60.2h0.2M1600.9 61.7h0.2M1601.0 62.9h0.2M1601.1 67.1h0.2M1601.4 68.5h0.2M1601.6 65.3h0.2M1601.7 63.5h0.2M1601.8 61.1h0.2M1602.0 60.5h0.2M1602.1 61.4h0.2M1602.3 64.3h0.2M1602.4 66.9h0.2M1602.5 70.2h0.2M1602.7 67.6h0.2M1603.0 71.5h0.2M1603.1 67.5h0.2M1603.2 61.8h0.2M1603.4 67.1h0.2M1603.5 63.1h0.2M1603.7 68.8h0.2M1603.8 72.1h0.2M1604.0 63.5h0.2M1604.2 61.8h0.2M1604.4 65.5h0.2M1604.5 61.9h0.2M1604.7 71.9h0.2M1604.8 73.7h0.2M1605.1 71.5h0.2M1605.2 73.5h0.2M1605.4 71.8h0.2M1605.5 65.1h0.2M1605.6 62.1h0.2M1605.8 69.3h0.2M1606.2 70.3h0.2M1606.4 62.8h0.2M1606.5 60.2h0.2M1606.6 69.3h0.2M1606.8 63.7h0.2M1606.9 65.6h0.2M1607.1 62.0h0.2M1607.2 68.4h0.2M1607.3 62.8h0.2M1607.5 63.6h0.2M1607.6 65.6h0.2M1607.8 62.6h0.2M1607.9 60.5h0.2M1608.0 60.1h0.2M1608.2 71.6h0.2M1608.3 63.6h0.2M1608.5 62.8h0.2M1608.6 73.6h0.2M1608.7 79.9h0.2M1608.9 81.4h0.2M1609.0 72.2h0.2M1609.2 72.4h0.2M1609.3 74.9h0.2M1609.5 70.9h0.2M1609.7 74.5h0.2M1609.9 65.1h0.2M1610.0 70.5h0.2M1610.2 65.7h0.2M1610.3 66.6h0.2M1610.4 61.4h0.2M1610.6 68.4h0.2M1610.7 80.0h0.2M1610.9 69.0h0.2M1611.0 62.7h0.2M1611.1 69.1h0.2M1611.4 67.9h0.2M1611.6 65.2h0.2M1611.7 67.5h0.2M1611.9 63.0h0.2M1612.0 63.7h0.2M1612.1 62.2h0.2M1612.3 68.3h0.2M1612.4 66.4h0.2M1612.6 64.0h0.2M1612.8 62.1h0.2M1613.0 60.2h0.2M1613.1 60.3h0.2M1613.3 70.0h0.2M1613.4 63.6h0.2M1613.5 66.6h0.2M1613.7 67.9h0.2M1613.8 69.3h0.2M1614.2 65.0h0.2M1614.4 61.6h0.2M1614.5 61.2h0.2M1614.7 60.3h0.2M1614.8 64.4h0.2M1615.0 66.4h0.2M1615.1 62.0h0.2M1615.2 67.9h0.2M1615.4 63.2h0.2M1615.5 69.3h0.2M1615.7 70.1h0.2M1615.8 67.8h0.2M1616.1 66.3h0.2M1616.2 75.0h0.2M1616.4 73.6h0.2M1616.5 69.3h0.2M1616.6 62.9h0.2M1616.8 69.7h0.2M1616.9 65.5h0.2M1617.1 81.1h0.2M1617.4 67.6h0.2M1617.5 85.9h0.2M1617.6 75.4h0.2M1617.8 66.4h0.2M1617.9 67.2h0.2M1618.1 71.1h0.2M1618.2 68.1h0.2M1618.3 68.5h0.2M1618.5 62.9h0.2M1618.6 60.4h0.2M1618.8 68.3h0.2M1619.0 63.5h0.2M1619.3 66.0h0.2M1619.5 65.6h0.2M1619.6 62.0h0.2M1619.9 63.3h0.2M1620.0 79.6h0.2M1620.3 68.6h0.2M1620.5 65.5h0.2M1620.6 61.9h0.2M1620.9 63.5h0.2M1621.0 61.8h0.2M1621.2 61.3h0.2M1621.3 63.0h0.2M1621.4 65.9h0.2M1621.6 61.2h0.2M1621.7 64.0h0.2M1621.9 62.5h0.2M1622.0 61.1h0.2M1622.1 60.4h0.2M1622.3 60.7h0.2M1622.4 60.8h0.2M1622.6 65.5h0.2M1622.7 62.9h0.2M1622.8 65.5h0.2M1623.1 62.4h0.2M1623.3 68.1h0.2M1623.4 70.1h0.2M1623.6 64.1h0.2M1623.7 63.9h0.2M1623.8 61.0h0.2M1624.0 65.0h0.2M1624.1 70.2h0.2M1624.3 65.3h0.2M1624.4 69.9h0.2M1624.5 67.8h0.2M1624.8 63.6h0.2M1625.0 62.3h0.2M1625.1 60.2h0.2M1625.2 66.8h0.2M1625.4 68.9h0.2M1625.7 68.6h0.2M1625.8 70.4h0.2M1626.0 65.4h0.2M1626.1 62.8h0.2M1626.2 63.5h0.2M1626.5 62.7h0.2M1626.7 65.3h0.2M1626.8 64.9h0.2M1626.9 69.7h0.2M1627.1 66.9h0.2M1627.2 66.8h0.2M1627.4 62.3h0.2M1627.5 68.7h0.2M1627.8 65.5h0.2M1627.9 67.5h0.2M1628.1 64.9h0.2M1628.2 60.9h0.2M1628.5 67.6h0.2M1628.6 73.3h0.2M1628.8 72.9h0.2M1628.9 67.8h0.2M1629.2 73.5h0.2M1629.3 70.8h0.2M1629.5 62.3h0.2M1629.6 68.4h0.2M1629.8 62.9h0.2M1629.9 69.2h0.2M1630.0 71.4h0.2M1630.2 81.3h0.2M1630.3 75.4h0.2M1630.5 69.8h0.2M1630.6 71.3h0.2M1630.7 67.5h0.2M1630.9 70.7h0.2M1631.0 70.1h0.2M1631.2 65.9h0.2M1631.5 66.0h0.2M1631.6 61.8h0.2M1631.7 67.9h0.2M1631.9 63.8h0.2M1632.0 72.1h0.2M1632.2 78.5h0.2M1632.3 74.2h0.2M1632.4 71.9h0.2M1632.6 67.2h0.2M1632.7 69.9h0.2M1632.9 78.1h0.2M1633.1 72.3h0.2M1633.3 62.5h0.2M1633.4 64.0h0.2M1633.6 68.0h0.2M1633.8 71.2h0.2M1634.0 65.1h0.2M1634.1 63.1h0.2M1634.3 71.3h0.2M1634.4 69.0h0.2M1634.7 66.4h0.2M1634.8 66.8h0.2M1635.0 63.9h0.2M1635.1 67.4h0.2M1635.3 67.9h0.2M1635.4 62.1h0.2M1635.5 69.4h0.2M1635.8 62.0h0.2M1636.0 61.5h0.2M1636.1 60.5h0.2M1636.2 66.9h0.2M1636.4 65.7h0.2M1636.7 62.6h0.2M1636.9 62.2h0.2M1637.1 65.9h0.2M1637.2 66.1h0.2M1637.4 71.0h0.2M1637.7 66.7h0.2M1637.8 70.4h0.2M1637.9 71.4h0.2M1638.1 72.5h0.2M1638.2 68.6h0.2M1638.4 61.9h0.2M1638.5 71.6h0.2M1638.6 62.2h0.2M1638.8 62.2h0.2M1638.9 61.6h0.2M1639.1 71.5h0.2M1639.2 64.8h0.2M1639.5 63.7h0.2M1639.6 64.9h0.2M1639.8 61.4h0.2M1639.9 63.4h0.2M1640.1 62.9h0.2M1640.3 63.5h0.2M1640.5 61.9h0.2M1640.6 69.4h0.2M1641.0 70.0h0.2M1641.2 68.6h0.2M1641.5 79.6h0.2M1641.6 74.4h0.2M1641.7 78.8h0.2M1641.9 67.6h0.2M1642.3 62.5h0.2M1642.4 62.0h0.2M1642.6 65.7h0.2M1642.7 68.2h0.2M1643.0 61.9h0.2M1643.3 61.5h0.2M1643.4 61.7h0.2M1643.6 61.0h0.2M1643.7 60.2h0.2M1643.9 62.2h0.2M1644.0 71.3h0.2M1644.1 70.1h0.2M1644.3 63.6h0.2M1644.4 60.4h0.2M1644.6 62.3h0.2M1644.8 61.7h0.2M1645.0 66.9h0.2M1645.1 62.4h0.2M1645.3 60.9h0.2M1645.4 64.9h0.2M1645.7 62.1h0.2M1645.8 67.2h0.2M1646.1 69.9h0.2M1646.3 69.7h0.2M1646.4 65.3h0.2M1646.5 66.2h0.2M1646.7 65.4h0.2M1647.0 63.1h0.2M1647.1 64.6h0.2M1647.2 60.4h0.2M1647.4 65.6h0.2M1647.7 62.7h0.2M1647.9 68.6h0.2M1648.1 62.3h0.2M1648.2 62.1h0.2M1648.4 62.5h0.2M1648.5 67.9h0.2M1648.8 64.5h0.2M1648.9 67.8h0.2M1649.1 61.6h0.2M1649.4 65.5h0.2M1649.5 71.0h0.2M1649.6 73.6h0.2M1649.8 72.9h0.2M1649.9 69.1h0.2M1650.2 65.9h0.2M1650.3 67.7h0.2M1650.5 64.3h0.2M1650.8 62.7h0.2M1650.9 63.5h0.2M1651.0 60.5h0.2M1651.2 63.8h0.2M1651.3 67.1h0.2M1651.5 63.5h0.2M1651.6 69.0h0.2M1651.8 63.4h0.2M1651.9 69.9h0.2M1652.0 69.8h0.2M1652.2 65.8h0.2M1652.3 71.8h0.2M1652.5 71.0h0.2M1652.6 67.8h0.2M1652.7 63.1h0.2M1652.9 60.4h0.2M1653.0 69.1h0.2M1653.2 71.8h0.2M1653.3 67.4h0.2M1653.4 62.8h0.2M1653.6 70.8h0.2M1653.7 65.4h0.2M1653.9 65.9h0.2M1654.0 66.0h0.2M1654.2 67.3h0.2M1654.3 70.8h0.2M1654.4 66.3h0.2M1654.6 65.9h0.2M1654.7 63.1h0.2M1655.0 68.9h0.2M1655.3 62.0h0.2M1655.4 66.0h0.2M1655.6 62.6h0.2M1655.7 61.4h0.2M1655.8 60.2h0.2M1656.0 61.7h0.2M1656.1 60.5h0.2M1656.3 62.2h0.2M1656.4 66.9h0.2M1656.5 68.4h0.2M1656.7 68.4h0.2M1656.8 68.3h0.2M1657.0 70.4h0.2M1657.3 62.4h0.2M1657.4 60.7h0.2M1657.5 62.5h0.2M1657.7 67.5h0.2M1657.8 65.1h0.2M1658.0 66.0h0.2M1658.4 64.4h0.2M1658.7 63.5h0.2M1658.8 60.3h0.2M1658.9 79.9h0.2M1659.1 66.9h0.2M1659.2 65.6h0.2M1659.4 64.1h0.2M1659.7 64.6h0.2M1659.8 81.8h0.2M1659.9 73.9h0.2M1660.1 70.5h0.2M1660.2 72.2h0.2M1660.4 66.3h0.2M1660.5 69.0h0.2M1660.6 71.4h0.2M1660.9 64.4h0.2M1661.1 75.2h0.2M1661.3 64.6h0.2M1661.5 71.1h0.2M1661.6 62.2h0.2M1661.8 62.2h0.2M1661.9 69.6h0.2M1662.0 72.9h0.2M1662.2 63.6h0.2M1662.3 61.0h0.2M1662.6 65.1h0.2M1662.9 60.8h0.2M1663.0 67.9h0.2M1663.3 63.8h0.2M1663.6 62.6h0.2M1663.7 64.9h0.2M1663.9 65.3h0.2M1664.0 63.6h0.2M1664.2 61.1h0.2M1664.3 69.1h0.2M1664.4 67.3h0.2M1664.7 62.6h0.2M1664.9 60.3h0.2M1665.0 68.6h0.2M1665.1 68.3h0.2M1665.4 63.1h0.2M1665.6 61.0h0.2M1665.7 70.6h0.2M1666.0 65.0h0.2M1666.1 77.6h0.2M1666.3 64.2h0.2M1666.4 67.5h0.2M1666.6 68.8h0.2M1666.8 67.6h0.2M1667.0 64.4h0.2M1667.1 68.8h0.2M1667.5 65.6h0.2M1667.7 61.4h0.2M1667.8 64.0h0.2M1668.0 66.8h0.2M1668.3 64.4h0.2M1668.4 65.9h0.2M1668.5 70.0h0.2M1668.7 70.2h0.2M1668.8 64.4h0.2M1669.0 61.0h0.2M1669.2 60.3h0.2M1669.4 66.9h0.2M1669.5 64.5h0.2M1669.7 65.6h0.2M1669.8 64.3h0.2M1669.9 65.3h0.2M1670.2 67.2h0.2M1670.5 61.5h0.2M1670.6 62.1h0.2M1670.8 66.7h0.2M1670.9 61.9h0.2M1671.1 66.1h0.2M1671.2 61.4h0.2M1671.4 63.0h0.2M1671.5 61.7h0.2M1671.6 64.9h0.2M1671.8 65.9h0.2M1671.9 80.9h0.2M1672.1 77.7h0.2M1672.2 70.1h0.2M1672.3 62.1h0.2M1672.6 61.6h0.2M1672.8 65.4h0.2M1672.9 66.8h0.2M1673.0 64.7h0.2M1673.2 67.2h0.2M1673.3 78.0h0.2M1673.5 67.3h0.2M1673.6 66.8h0.2M1673.8 69.1h0.2M1673.9 69.0h0.2M1674.0 72.4h0.2M1674.2 67.9h0.2M1674.5 81.0h0.2M1674.6 71.3h0.2M1674.7 69.1h0.2M1674.9 78.5h0.2M1675.0 72.4h0.2M1675.2 62.9h0.2M1675.3 64.6h0.2M1675.4 73.1h0.2M1675.6 66.7h0.2M1675.7 66.5h0.2M1676.0 63.6h0.2M1676.1 64.5h0.2M1676.4 60.1h0.2M1676.6 60.3h0.2M1677.0 67.8h0.2M1677.4 62.7h0.2M1677.7 61.1h0.2M1677.8 67.7h0.2M1678.0 62.7h0.2M1678.1 68.0h0.2M1678.3 67.6h0.2M1678.4 63.8h0.2M1678.5 72.5h0.2M1678.7 67.7h0.2M1678.8 67.8h0.2M1679.1 65.3h0.2M1679.2 67.1h0.2M1679.4 63.6h0.2M1679.5 69.6h0.2M1679.7 66.2h0.2M1679.8 66.2h0.2M1680.0 68.4h0.2M1680.1 71.6h0.2M1680.2 68.5h0.2M1680.4 68.1h0.2M1680.5 68.0h0.2M1680.7 69.2h0.2M1680.8 66.5h0.2M1680.9 61.6h0.2M1681.1 63.6h0.2M1681.4 64.1h0.2M1681.5 68.5h0.2M1681.6 68.1h0.2M1681.8 61.4h0.2M1681.9 65.1h0.2M1682.2 68.0h0.2M1682.4 63.6h0.2M1682.5 63.9h0.2M1682.6 64.9h0.2M1682.9 60.8h0.2M1683.1 68.8h0.2M1683.2 69.3h0.2M1683.3 64.1h0.2M1683.5 65.5h0.2M1683.6 62.1h0.2M1683.8 60.8h0.2M1683.9 66.5h0.2M1684.0 63.2h0.2M1684.2 69.6h0.2M1684.5 66.8h0.2M1684.6 65.7h0.2M1684.7 62.9h0.2M1685.0 66.1h0.2M1685.2 65.9h0.2M1685.5 62.9h0.2M1685.6 67.4h0.2M1685.7 61.9h0.2M1685.9 60.5h0.2M1686.0 60.4h0.2M1686.2 62.2h0.2M1686.3 67.0h0.2M1686.6 61.2h0.2M1686.7 65.8h0.2M1686.9 62.2h0.2M1687.0 62.2h0.2M1687.1 63.3h0.2M1687.3 64.4h0.2M1687.4 61.9h0.2M1687.6 60.3h0.2M1687.7 64.4h0.2M1687.8 61.2h0.2M1688.0 63.6h0.2M1688.1 63.8h0.2M1688.3 69.0h0.2M1688.4 62.7h0.2M1688.6 60.3h0.2M1688.7 66.3h0.2M1688.8 67.8h0.2M1689.0 69.8h0.2M1689.1 63.6h0.2M1689.3 62.4h0.2M1689.4 64.7h0.2M1689.5 61.6h0.2M1689.7 60.4h0.2M1689.8 65.0h0.2M1690.0 64.5h0.2M1690.2 63.3h0.2M1690.4 63.6h0.2M1690.5 64.9h0.2M1690.7 62.6h0.2M1690.8 68.7h0.2M1691.0 61.7h0.2M1691.1 64.3h0.2M1691.2 69.8h0.2M1691.4 68.6h0.2M1691.5 62.0h0.2M1691.7 72.0h0.2M1691.8 67.7h0.2M1691.9 63.9h0.2M1692.1 61.8h0.2M1692.2 60.3h0.2M1692.5 70.4h0.2M1692.6 73.1h0.2M1692.8 65.3h0.2M1692.9 62.3h0.2M1693.1 69.1h0.2M1693.2 65.6h0.2M1693.3 64.6h0.2M1693.5 63.2h0.2M1693.6 60.3h0.2M1694.1 60.8h0.2M1694.2 60.3h0.2M1694.3 69.2h0.2M1694.5 64.2h0.2M1694.6 62.9h0.2M1694.8 64.6h0.2M1694.9 67.7h0.2M1695.0 70.8h0.2M1695.2 67.8h0.2M1695.3 66.2h0.2M1695.6 65.0h0.2M1695.7 64.5h0.2M1695.9 69.1h0.2M1696.0 63.5h0.2M1696.2 65.9h0.2M1696.3 61.7h0.2M1696.5 63.7h0.2M1696.6 64.4h0.2M1696.7 61.5h0.2M1696.9 60.2h0.2M1697.0 60.9h0.2M1697.2 60.8h0.2M1697.3 67.4h0.2M1697.4 68.1h0.2M1697.6 67.1h0.2M1697.7 69.5h0.2M1697.9 74.1h0.2M1698.1 70.7h0.2M1698.3 63.4h0.2M1698.4 64.2h0.2M1698.7 61.2h0.2M1698.8 65.5h0.2M1699.0 67.1h0.2M1699.1 68.0h0.2M1699.3 67.2h0.2M1699.4 60.9h0.2M1699.6 61.8h0.2M1699.7 62.5h0.2M1700.1 65.0h0.2M1700.3 64.9h0.2M1700.4 60.8h0.2M1700.5 60.2h0.2M1700.7 62.2h0.2M1700.8 60.3h0.2M1701.0 65.1h0.2M1701.1 68.3h0.2M1701.2 71.1h0.2M1701.5 69.4h0.2M1701.7 71.7h0.2M1701.8 70.9h0.2M1702.0 66.9h0.2M1702.1 67.6h0.2M1702.2 64.5h0.2M1702.5 66.1h0.2M1702.7 60.8h0.2M1702.8 64.5h0.2M1703.1 61.6h0.2M1703.2 69.4h0.2M1703.4 69.8h0.2M1703.5 69.3h0.2M1703.6 71.6h0.2M1703.9 62.8h0.2M1704.1 65.9h0.2M1704.2 70.9h0.2M1704.3 63.6h0.2M1704.6 68.9h0.2M1704.9 84.7h0.2M1705.1 68.5h0.2M1705.3 68.1h0.2M1705.5 61.5h0.2M1705.6 63.9h0.2M1705.8 64.8h0.2M1705.9 63.6h0.2M1706.0 64.4h0.2M1706.2 64.2h0.2M1706.3 62.8h0.2M1706.5 69.6h0.2M1706.6 62.8h0.2M1706.7 70.1h0.2M1706.9 70.0h0.2M1707.0 65.3h0.2M1707.2 65.0h0.2M1707.4 63.4h0.2M1707.6 64.1h0.2M1707.9 68.0h0.2M1708.2 61.1h0.2M1708.3 61.0h0.2M1708.4 62.5h0.2M1708.6 61.3h0.2M1708.7 65.9h0.2M1708.9 61.8h0.2M1709.0 67.4h0.2M1709.1 71.1h0.2M1709.3 71.2h0.2M1709.4 64.4h0.2M1709.7 77.5h0.2M1709.8 78.2h0.2M1710.0 72.3h0.2M1710.1 71.6h0.2M1710.3 68.1h0.2M1710.4 67.4h0.2M1710.6 79.4h0.2M1710.7 74.0h0.2M1711.1 66.6h0.2M1711.3 79.8h0.2M1711.4 73.2h0.2M1711.5 67.5h0.2M1711.7 89.3h0.2M1711.8 76.4h0.2M1712.0 73.5h0.2M1712.1 69.8h0.2M1712.2 62.6h0.2M1712.4 68.6h0.2M1712.7 64.7h0.2M1712.8 60.8h0.2M1712.9 67.1h0.2M1713.2 62.4h0.2M1713.4 60.3h0.2M1713.5 62.9h0.2M1713.7 65.1h0.2M1713.8 80.1h0.4M1714.4 70.9h0.2M1714.5 70.4h0.2M1714.8 71.8h0.2M1715.1 62.8h0.2M1715.3 69.1h0.2M1715.5 67.6h0.2M1715.6 64.6h0.2M1715.8 68.5h0.2M1716.2 62.8h0.2M1716.3 60.2h0.2M1716.5 60.3h0.2M1716.6 63.0h0.2M1716.8 70.2h0.2M1716.9 62.7h0.2M1717.0 66.1h0.2M1717.2 62.6h0.2M1717.3 66.5h0.2M1717.5 70.4h0.2M1717.7 68.3h0.2M1717.9 63.8h0.2M1718.0 69.7h0.2M1718.2 64.5h0.2M1718.3 72.8h0.2M1718.4 68.2h0.2M1718.6 65.2h0.2M1718.7 62.5h0.2M1719.0 60.3h0.2M1719.2 60.6h0.2M1719.3 61.8h0.2M1719.4 64.2h0.2M1719.6 63.0h0.2M1719.7 66.3h0.2M1719.9 63.8h0.2M1720.0 64.1h0.2M1720.1 68.9h0.2M1720.4 63.1h0.2M1720.6 63.1h0.2M1720.7 74.9h0.2M1720.8 70.6h0.2M1721.1 75.1h0.2M1721.4 73.4h0.2M1721.5 69.5h0.2M1721.7 71.8h0.2M1721.8 63.0h0.2M1722.0 60.2h0.2M1722.1 65.1h0.2M1722.3 72.7h0.2M1722.5 66.2h0.2M1722.7 73.0h0.2M1722.8 64.6h0.2M1723.0 64.9h0.2M1723.1 62.3h0.2M1723.2 62.0h0.2M1723.4 63.2h0.2M1723.5 72.0h0.2M1723.7 66.3h0.2M1723.8 61.7h0.2M1723.9 62.3h0.2M1724.1 67.2h0.2M1724.2 67.6h0.2M1724.4 63.4h0.2M1724.5 65.9h0.2M1724.7 61.6h0.2M1724.8 64.2h0.2M1724.9 67.2h0.2M1725.1 64.4h0.2M1725.2 65.6h0.2M1725.4 60.5h0.2M1725.6 64.0h0.2M1725.9 64.1h0.2M1726.1 66.0h0.2M1726.2 65.8h0.2M1726.3 61.6h0.2M1726.5 60.6h0.2M1726.6 60.2h0.2M1726.8 63.1h0.2M1726.9 63.6h0.2M1727.0 64.4h0.2M1727.2 70.9h0.2M1727.3 68.3h0.2M1727.5 67.1h0.2M1727.8 66.9h0.2M1727.9 64.2h0.2M1728.0 66.8h0.2M1728.2 65.9h0.2M1728.3 61.1h0.2M1728.5 63.2h0.2M1728.6 65.3h0.2M1728.9 62.1h0.2M1729.0 63.6h0.2M1729.2 70.5h0.2M1729.3 62.5h0.2M1729.4 63.4h0.2M1729.6 65.7h0.2M1729.7 64.5h0.2M1729.9 69.0h0.2M1730.0 66.7h0.2M1730.2 66.9h0.2M1730.3 67.6h0.2M1730.4 63.9h0.2M1730.6 71.6h0.2M1730.7 68.4h0.2M1730.9 61.3h0.2M1731.0 62.2h0.2M1731.1 67.4h0.2M1731.3 62.6h0.2M1731.4 63.3h0.2M1731.8 60.1h0.2M1732.0 62.1h0.2M1732.1 62.4h0.2M1732.4 60.6h0.2M1732.5 62.0h0.2M1732.7 68.6h0.2M1732.8 62.4h0.2M1733.0 63.4h0.2M1733.1 60.2h0.2M1733.3 66.4h0.2M1733.4 72.9h0.2M1733.7 62.6h0.2M1733.8 72.1h0.2M1734.1 65.5h0.2M1734.2 66.8h0.2M1734.4 67.7h0.2M1734.5 68.7h0.2M1734.8 61.8h0.2M1734.9 64.4h0.2M1735.1 62.0h0.2M1735.2 61.8h0.2M1735.4 65.9h0.2M1735.5 62.0h0.2M1735.6 63.5h0.2M1735.8 60.6h0.2M1735.9 65.2h0.2M1736.2 71.3h0.2M1736.4 72.1h0.2M1736.8 65.5h0.2M1736.9 64.9h0.2M1737.1 66.2h0.2M1737.5 63.3h0.2M1737.6 62.9h0.2M1737.8 61.9h0.2M1737.9 62.8h0.2M1738.2 72.2h0.2M1738.3 73.8h0.2M1738.5 70.5h0.2M1738.6 68.8h0.2M1738.8 63.8h0.2M1738.9 74.1h0.2M1739.0 67.3h0.2M1739.2 63.6h0.2M1739.3 62.3h0.2M1739.5 69.1h0.2M1739.6 66.9h0.2M1739.7 70.5h0.2M1739.9 72.1h0.2M1740.0 62.8h0.2M1740.2 66.7h0.2M1740.3 71.9h0.2M1740.4 63.0h0.2M1740.6 60.3h0.2M1740.7 68.0h0.2M1740.9 65.5h0.2M1741.0 60.9h0.2M1741.1 63.1h0.2M1741.3 68.3h0.2M1741.4 64.5h0.2M1741.6 68.6h0.2M1741.7 65.3h0.2M1741.9 61.3h0.2M1742.1 66.5h0.2M1742.3 62.4h0.2M1742.7 63.7h0.2M1743.1 69.7h0.2M1743.4 64.8h0.2M1743.5 61.2h0.2M1743.7 67.0h0.2M1744.1 60.8h0.2M1744.2 60.5h0.2M1744.4 64.8h0.2M1744.5 66.0h0.2M1744.7 65.3h0.2M1744.8 69.5h0.2M1745.1 63.1h0.2M1745.2 61.0h0.2M1745.4 61.3h0.2M1745.5 65.1h0.2M1745.8 70.0h0.2M1745.9 64.2h0.2M1746.1 65.3h0.2M1746.2 65.2h0.2M1746.5 63.6h0.2M1746.6 62.5h0.2M1746.8 68.7h0.2M1746.9 69.7h0.2M1747.1 65.6h0.2M1747.2 65.0h0.2M1747.4 68.9h0.2M1747.5 68.6h0.2M1747.6 73.1h0.2M1747.9 64.1h0.2M1748.1 66.5h0.2M1748.2 69.5h0.2M1748.3 71.0h0.2M1748.6 68.3h0.2M1748.8 62.7h0.2M1748.9 64.9h0.2M1749.0 66.8h0.2M1749.2 61.0h0.2M1749.3 61.9h0.2M1749.5 61.2h0.2M1749.6 69.4h0.2M1749.7 71.1h0.2M1749.9 70.8h0.2M1750.0 71.3h0.2M1750.2 64.0h0.2M1750.3 60.1h0.2M1750.5 78.5h0.2M1750.6 73.7h0.2M1750.7 73.2h0.2M1750.9 68.4h0.2M1751.0 66.3h0.2M1751.2 66.8h0.2M1751.4 66.7h0.2M1751.6 65.9h0.2M1751.7 71.5h0.2M1752.0 79.4h0.2M1752.1 71.5h0.2M1752.3 65.6h0.2M1752.4 70.8h0.2M1752.6 66.2h0.2M1752.7 67.6h0.2" stroke="#231f20" stroke-width="0.95" stroke-linecap="square" fill="none"/>
<rect x="1521.30" y="52.60" width="236.10" height="146.70" fill="none" stroke="#77787b" stroke-width="1.6"/>
<path d="M1525.70 199.30v-2.70M1525.70 52.60v2.70M1596.20 199.30v-2.70M1596.20 52.60v2.70M1666.70 199.30v-2.70M1666.70 52.60v2.70M1737.20 199.30v-2.70M1737.20 52.60v2.70M1525.70 199.30v-1.60M1525.70 52.60v1.60M1539.80 199.30v-1.60M1539.80 52.60v1.60M1553.90 199.30v-1.60M1553.90 52.60v1.60M1568.00 199.30v-1.60M1568.00 52.60v1.60M1582.10 199.30v-1.60M1582.10 52.60v1.60M1596.20 199.30v-1.60M1596.20 52.60v1.60M1610.30 199.30v-1.60M1610.30 52.60v1.60M1624.40 199.30v-1.60M1624.40 52.60v1.60M1638.50 199.30v-1.60M1638.50 52.60v1.60M1652.60 199.30v-1.60M1652.60 52.60v1.60M1666.70 199.30v-1.60M1666.70 52.60v1.60M1680.80 199.30v-1.60M1680.80 52.60v1.60M1694.90 199.30v-1.60M1694.90 52.60v1.60M1709.00 199.30v-1.60M1709.00 52.60v1.60M1723.10 199.30v-1.60M1723.10 52.60v1.60M1737.20 199.30v-1.60M1737.20 52.60v1.60M1751.30 199.30v-1.60M1751.30 52.60v1.60M1521.30 198.40h2.70M1757.40 198.40h-2.70M1521.30 170.74h2.70M1757.40 170.74h-2.70M1521.30 143.08h2.70M1757.40 143.08h-2.70M1521.30 115.42h2.70M1757.40 115.42h-2.70M1521.30 87.76h2.70M1757.40 87.76h-2.70M1521.30 60.10h2.70M1757.40 60.10h-2.70M1521.30 198.40h1.60M1757.40 198.40h-1.60M1521.30 191.49h1.60M1757.40 191.49h-1.60M1521.30 184.57h1.60M1757.40 184.57h-1.60M1521.30 177.66h1.60M1757.40 177.66h-1.60M1521.30 170.74h1.60M1757.40 170.74h-1.60M1521.30 163.82h1.60M1757.40 163.82h-1.60M1521.30 156.91h1.60M1757.40 156.91h-1.60M1521.30 150.00h1.60M1757.40 150.00h-1.60M1521.30 143.08h1.60M1757.40 143.08h-1.60M1521.30 136.16h1.60M1757.40 136.16h-1.60M1521.30 129.25h1.60M1757.40 129.25h-1.60M1521.30 122.33h1.60M1757.40 122.33h-1.60M1521.30 115.42h1.60M1757.40 115.42h-1.60M1521.30 108.50h1.60M1757.40 108.50h-1.60M1521.30 101.59h1.60M1757.40 101.59h-1.60M1521.30 94.67h1.60M1757.40 94.67h-1.60M1521.30 87.76h1.60M1757.40 87.76h-1.60M1521.30 80.84h1.60M1757.40 80.84h-1.60M1521.30 73.93h1.60M1757.40 73.93h-1.60M1521.30 67.01h1.60M1757.40 67.01h-1.60M1521.30 60.10h1.60M1757.40 60.10h-1.60" stroke="#808285" stroke-width="0.8" fill="none"/>
<g font-family='"Liberation Sans", Arial, Helvetica, sans-serif'>
<text x="1516.50" y="201.50" font-size="10.3" text-anchor="end" fill="#231f20" stroke="#231f20" stroke-width="0.15" >0.0</text>
<text x="1516.50" y="173.84" font-size="10.3" text-anchor="end" fill="#231f20" stroke="#231f20" stroke-width="0.15" >0.2</text>
<text x="1516.50" y="146.18" font-size="10.3" text-anchor="end" fill="#231f20" stroke="#231f20" stroke-width="0.15" >0.4</text>
<text x="1516.50" y="118.52" font-size="10.3" text-anchor="end" fill="#231f20" stroke="#231f20" stroke-width="0.15" >0.6</text>
<text x="1516.50" y="90.86" font-size="10.3" text-anchor="end" fill="#231f20" stroke="#231f20" stroke-width="0.15" >0.8</text>
<text x="1516.50" y="63.20" font-size="10.3" text-anchor="end" fill="#231f20" stroke="#231f20" stroke-width="0.15" >1.0</text>
<text x="1525.70" y="210.90" font-size="10.3" text-anchor="middle" fill="#231f20" stroke="#231f20" stroke-width="0.15" >0</text>
<text x="1596.20" y="210.90" font-size="10.3" text-anchor="middle" fill="#231f20" stroke="#231f20" stroke-width="0.15" >500</text>
<text x="1666.70" y="210.90" font-size="10.3" text-anchor="middle" fill="#231f20" stroke="#231f20" stroke-width="0.15" >1000</text>
<text x="1737.20" y="210.90" font-size="10.3" text-anchor="middle" fill="#231f20" stroke="#231f20" stroke-width="0.15" >1500</text>
<text x="1639.00" y="226.90" font-size="10.4" text-anchor="middle" fill="#231f20" stroke="#231f20" stroke-width="0.15" >MCMC step</text>
<text x="0.00" y="0.00" font-size="10.3" text-anchor="start" fill="#231f20" stroke="#231f20" stroke-width="0.15" transform="translate(1493.0,196.3) rotate(-90)">Inferred per-cell survival rate <tspan font-family='"Liberation Serif", "DejaVu Serif", serif' font-style="italic">β</tspan></text>
</g>
</svg>
</body>
</html>
